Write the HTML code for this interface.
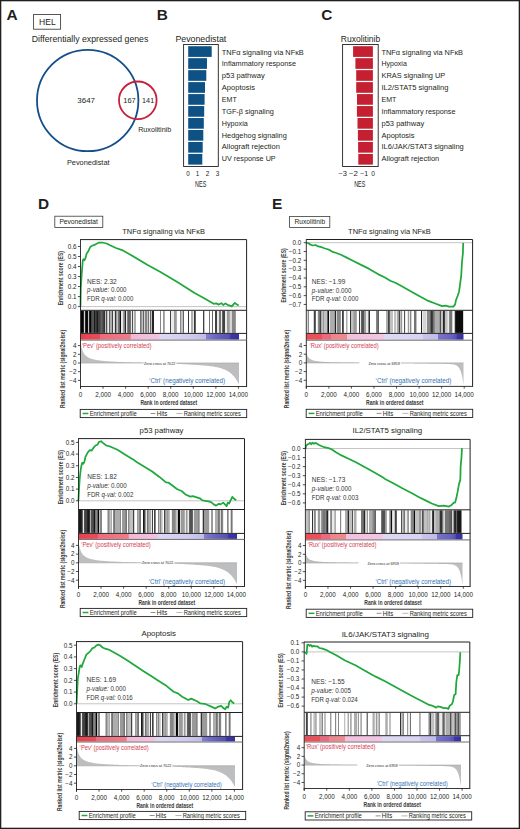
<!DOCTYPE html>
<html><head><meta charset="utf-8"><style>
html,body{margin:0;padding:0;background:#fff;}
body{width:520px;height:829px;overflow:hidden;}
svg{display:block;font-family:"Liberation Sans", sans-serif;}
</style></head><body>
<svg width="520" height="829" viewBox="0 0 520 829">
<rect x="0" y="0" width="520" height="829" fill="#fff"/>
<g fill="#231f20">
<text x="6.60" y="20.00" font-size="14" font-weight="bold" textLength="11.20" lengthAdjust="spacingAndGlyphs">A</text>
<rect x="33.60" y="14.50" width="27.00" height="14.70" fill="none" stroke="#3a3a3a" stroke-width="0.85"/>
<text x="39.10" y="24.70" font-size="9.2" textLength="16.60" lengthAdjust="spacingAndGlyphs">HEL</text>
<text x="31.80" y="42.00" font-size="9" textLength="116.50" lengthAdjust="spacingAndGlyphs">Differentially expressed genes</text>
<circle cx="87.7" cy="100.5" r="50.7" fill="none" stroke="#124f8a" stroke-width="1.8"/>
<circle cx="137.8" cy="100.3" r="18.8" fill="none" stroke="#c8203a" stroke-width="1.8"/>
<text x="77.30" y="102.90" font-size="8.1" textLength="17.70" lengthAdjust="spacingAndGlyphs">3647</text>
<text x="123.30" y="102.90" font-size="8.1" textLength="12.50" lengthAdjust="spacingAndGlyphs">167</text>
<text x="142.10" y="102.90" font-size="8.1" textLength="12.10" lengthAdjust="spacingAndGlyphs">141</text>
<text x="138.20" y="132.30" font-size="7.8" textLength="33.00" lengthAdjust="spacingAndGlyphs">Ruxolitinib</text>
<text x="66.90" y="164.50" font-size="7.8" textLength="42.70" lengthAdjust="spacingAndGlyphs">Pevonedistat</text>
<text x="156.80" y="19.60" font-size="14" font-weight="bold" textLength="11.10" lengthAdjust="spacingAndGlyphs">B</text>
<text x="175.40" y="41.70" font-size="9.3" textLength="50.90" lengthAdjust="spacingAndGlyphs">Pevonedistat</text>
<rect x="183.60" y="44.50" width="34.70" height="122.00" fill="none" stroke="#231f20" stroke-width="0.9"/>
<rect x="188.20" y="46.20" width="23.50" height="10.70" fill="#0e5285"/>
<text x="221.80" y="54.60" font-size="8.1" textLength="82.00" lengthAdjust="spacingAndGlyphs">TNF&#945; signaling via NF&#954;B</text>
<rect x="188.20" y="58.17" width="18.80" height="10.70" fill="#0e5285"/>
<text x="221.80" y="66.45" font-size="8.1" textLength="74.20" lengthAdjust="spacingAndGlyphs">Inflammatory response</text>
<rect x="188.20" y="70.14" width="18.10" height="10.70" fill="#0e5285"/>
<text x="221.80" y="78.30" font-size="8.1" textLength="42.90" lengthAdjust="spacingAndGlyphs">p53 pathway</text>
<rect x="188.20" y="82.11" width="16.80" height="10.70" fill="#0e5285"/>
<text x="221.80" y="90.15" font-size="8.1" textLength="33.10" lengthAdjust="spacingAndGlyphs">Apoptosis</text>
<rect x="188.20" y="94.08" width="16.40" height="10.70" fill="#0e5285"/>
<text x="221.80" y="102.00" font-size="8.1" textLength="14.90" lengthAdjust="spacingAndGlyphs">EMT</text>
<rect x="188.20" y="106.05" width="16.00" height="10.70" fill="#0e5285"/>
<text x="221.80" y="113.85" font-size="8.1" textLength="52.00" lengthAdjust="spacingAndGlyphs">TGF-&#946; signaling</text>
<rect x="188.20" y="118.02" width="15.60" height="10.70" fill="#0e5285"/>
<text x="221.80" y="125.70" font-size="8.1" textLength="26.00" lengthAdjust="spacingAndGlyphs">Hypoxia</text>
<rect x="188.20" y="129.99" width="15.10" height="10.70" fill="#0e5285"/>
<text x="221.80" y="137.55" font-size="8.1" textLength="65.00" lengthAdjust="spacingAndGlyphs">Hedgehog signaling</text>
<rect x="188.20" y="141.96" width="14.50" height="10.70" fill="#0e5285"/>
<text x="221.80" y="149.40" font-size="8.1" textLength="58.10" lengthAdjust="spacingAndGlyphs">Allograft rejection</text>
<rect x="188.20" y="153.93" width="14.10" height="10.70" fill="#0e5285"/>
<text x="221.80" y="161.25" font-size="8.1" textLength="53.90" lengthAdjust="spacingAndGlyphs">UV response UP</text>
<text x="187.90" y="175.70" font-size="6.3" text-anchor="middle">0</text>
<text x="197.50" y="175.70" font-size="6.3" text-anchor="middle">1</text>
<text x="207.60" y="175.70" font-size="6.3" text-anchor="middle">2</text>
<text x="217.40" y="175.70" font-size="6.3" text-anchor="middle">3</text>
<text x="200.75" y="186.90" font-size="9.0" text-anchor="middle" textLength="11.30" lengthAdjust="spacingAndGlyphs">NES</text>
<text x="321.30" y="19.60" font-size="14" font-weight="bold" textLength="11.10" lengthAdjust="spacingAndGlyphs">C</text>
<text x="340.80" y="41.70" font-size="9.3" textLength="39.40" lengthAdjust="spacingAndGlyphs">Ruxolitinib</text>
<rect x="342.60" y="44.50" width="35.60" height="122.00" fill="none" stroke="#231f20" stroke-width="0.9"/>
<rect x="353.10" y="46.20" width="19.80" height="10.70" fill="#c42032"/>
<text x="381.50" y="54.60" font-size="8.1" textLength="81.50" lengthAdjust="spacingAndGlyphs">TNF&#945; signaling via NF&#954;B</text>
<rect x="355.40" y="58.17" width="17.50" height="10.70" fill="#c42032"/>
<text x="381.50" y="66.45" font-size="8.1" textLength="25.30" lengthAdjust="spacingAndGlyphs">Hypoxia</text>
<rect x="356.20" y="70.14" width="16.70" height="10.70" fill="#c42032"/>
<text x="381.50" y="78.30" font-size="8.1" textLength="63.80" lengthAdjust="spacingAndGlyphs">KRAS signaling UP</text>
<rect x="356.20" y="82.11" width="16.70" height="10.70" fill="#c42032"/>
<text x="381.50" y="90.15" font-size="8.1" textLength="66.90" lengthAdjust="spacingAndGlyphs">IL2/STAT5 signaling</text>
<rect x="357.00" y="94.08" width="15.90" height="10.70" fill="#c42032"/>
<text x="381.50" y="102.00" font-size="8.1" textLength="14.80" lengthAdjust="spacingAndGlyphs">EMT</text>
<rect x="356.90" y="106.05" width="16.00" height="10.70" fill="#c42032"/>
<text x="381.50" y="113.85" font-size="8.1" textLength="74.00" lengthAdjust="spacingAndGlyphs">Inflammatory response</text>
<rect x="357.50" y="118.02" width="15.40" height="10.70" fill="#c42032"/>
<text x="381.50" y="125.70" font-size="8.1" textLength="42.70" lengthAdjust="spacingAndGlyphs">p53 pathway</text>
<rect x="357.90" y="129.99" width="15.00" height="10.70" fill="#c42032"/>
<text x="381.50" y="137.55" font-size="8.1" textLength="33.00" lengthAdjust="spacingAndGlyphs">Apoptosis</text>
<rect x="358.10" y="141.96" width="14.80" height="10.70" fill="#c42032"/>
<text x="381.50" y="149.40" font-size="8.1" textLength="82.30" lengthAdjust="spacingAndGlyphs">IL6/JAK/STAT3 signaling</text>
<rect x="358.30" y="153.93" width="14.60" height="10.70" fill="#c42032"/>
<text x="381.50" y="161.25" font-size="8.1" textLength="57.70" lengthAdjust="spacingAndGlyphs">Allograft rejection</text>
<text x="342.70" y="175.80" font-size="6.4" text-anchor="middle" textLength="8.60" lengthAdjust="spacingAndGlyphs">&#8722;3</text>
<text x="353.50" y="175.80" font-size="6.4" text-anchor="middle" textLength="9.00" lengthAdjust="spacingAndGlyphs">&#8722;2</text>
<text x="364.20" y="175.80" font-size="6.4" text-anchor="middle" textLength="8.00" lengthAdjust="spacingAndGlyphs">&#8722;1</text>
<text x="373.20" y="175.80" font-size="6.4" text-anchor="middle" textLength="3.70" lengthAdjust="spacingAndGlyphs">0</text>
<text x="359.80" y="186.90" font-size="9.0" text-anchor="middle" textLength="11.30" lengthAdjust="spacingAndGlyphs">NES</text>
<text x="38.10" y="209.30" font-size="14" font-weight="bold" textLength="11.10" lengthAdjust="spacingAndGlyphs">D</text>
<rect x="54.80" y="216.20" width="48.00" height="11.40" fill="none" stroke="#3a3a3a" stroke-width="0.8"/>
<text x="59.40" y="224.40" font-size="6.9" textLength="38.50" lengthAdjust="spacingAndGlyphs">Pevonedistat</text>
<text x="272.00" y="209.30" font-size="14" font-weight="bold" textLength="10.30" lengthAdjust="spacingAndGlyphs">E</text>
<rect x="289.60" y="216.40" width="40.20" height="11.20" fill="none" stroke="#3a3a3a" stroke-width="0.8"/>
<text x="294.60" y="224.40" font-size="6.9" textLength="30.50" lengthAdjust="spacingAndGlyphs">Ruxolitinib</text>
<text x="163.55" y="234.30" font-size="8.1" text-anchor="middle" textLength="82.70" lengthAdjust="spacingAndGlyphs">TNF&#945; signaling via NF&#954;B</text>
<line x1="80.50" y1="306.60" x2="246.60" y2="306.60" stroke="#bdbdbd" stroke-width="0.9"/>
<polyline points="80.50,306.50 80.80,288.20 81.80,272.60 82.80,260.50 83.50,259.10 84.40,260.20 85.30,258.80 86.70,253.60 88.00,251.80 89.20,249.20 90.50,246.70 92.20,245.80 94.40,244.90 97.00,243.50 99.10,242.50 102.20,242.50 106.60,243.50 110.00,245.30 116.00,248.00 122.10,250.10 130.00,254.40 147.20,264.80 160.00,271.70 177.30,282.10 194.60,293.00 203.30,297.70 213.70,303.80 216.20,303.40 218.80,304.60 221.40,303.20 223.20,305.00 225.40,303.40 228.40,305.20 231.80,306.40 234.80,302.90 237.00,304.60 238.70,305.50" fill="none" stroke="#1fa83c" stroke-width="1.75" stroke-linejoin="round"/>
<rect x="81" y="310.80" width="2" height="22.10" fill="rgb(3,3,3)"/>
<rect x="83" y="310.80" width="1" height="22.10" fill="rgb(37,37,37)"/>
<rect x="84" y="310.80" width="1" height="22.10" fill="rgb(213,213,213)"/>
<rect x="85" y="310.80" width="1" height="22.10" fill="rgb(37,37,37)"/>
<rect x="86" y="310.80" width="1" height="22.10" fill="rgb(3,3,3)"/>
<rect x="87" y="310.80" width="1" height="22.10" fill="rgb(12,12,12)"/>
<rect x="88" y="310.80" width="1" height="22.10" fill="rgb(193,193,193)"/>
<rect x="89" y="310.80" width="1" height="22.10" fill="rgb(37,37,37)"/>
<rect x="90" y="310.80" width="1" height="22.10" fill="rgb(3,3,3)"/>
<rect x="91" y="310.80" width="1" height="22.10" fill="rgb(66,66,66)"/>
<rect x="92" y="310.80" width="2" height="22.10" fill="rgb(82,82,82)"/>
<rect x="94" y="310.80" width="1" height="22.10" fill="rgb(24,24,24)"/>
<rect x="95" y="310.80" width="1" height="22.10" fill="rgb(66,66,66)"/>
<rect x="96" y="310.80" width="1" height="22.10" fill="rgb(51,51,51)"/>
<rect x="97" y="310.80" width="1" height="22.10" fill="rgb(24,24,24)"/>
<rect x="98" y="310.80" width="2" height="22.10" fill="rgb(66,66,66)"/>
<rect x="100" y="310.80" width="1" height="22.10" fill="rgb(82,82,82)"/>
<rect x="101" y="310.80" width="1" height="22.10" fill="rgb(99,99,99)"/>
<rect x="102" y="310.80" width="1" height="22.10" fill="rgb(82,82,82)"/>
<rect x="103" y="310.80" width="1" height="22.10" fill="rgb(66,66,66)"/>
<rect x="104" y="310.80" width="1" height="22.10" fill="rgb(51,51,51)"/>
<rect x="105" y="310.80" width="1" height="22.10" fill="rgb(193,193,193)"/>
<rect x="106" y="310.80" width="1" height="22.10" fill="rgb(82,82,82)"/>
<rect x="107" y="310.80" width="1" height="22.10" fill="rgb(193,193,193)"/>
<rect x="108" y="310.80" width="1" height="22.10" fill="rgb(234,234,234)"/>
<rect x="109" y="310.80" width="1" height="22.10" fill="rgb(99,99,99)"/>
<rect x="110" y="310.80" width="2" height="22.10" fill="rgb(173,173,173)"/>
<rect x="112" y="310.80" width="1" height="22.10" fill="rgb(66,66,66)"/>
<rect x="113" y="310.80" width="1" height="22.10" fill="rgb(234,234,234)"/>
<rect x="114" y="310.80" width="1" height="22.10" fill="rgb(213,213,213)"/>
<rect x="115" y="310.80" width="1" height="22.10" fill="rgb(51,51,51)"/>
<rect x="116" y="310.80" width="1" height="22.10" fill="rgb(154,154,154)"/>
<rect x="117" y="310.80" width="1" height="22.10" fill="rgb(193,193,193)"/>
<rect x="118" y="310.80" width="1" height="22.10" fill="rgb(117,117,117)"/>
<rect x="119" y="310.80" width="1" height="22.10" fill="rgb(99,99,99)"/>
<rect x="120" y="310.80" width="1" height="22.10" fill="rgb(12,12,12)"/>
<rect x="121" y="310.80" width="2" height="22.10" fill="rgb(234,234,234)"/>
<rect x="123" y="310.80" width="1" height="22.10" fill="rgb(154,154,154)"/>
<rect x="124" y="310.80" width="1" height="22.10" fill="rgb(135,135,135)"/>
<rect x="125" y="310.80" width="1" height="22.10" fill="rgb(37,37,37)"/>
<rect x="126" y="310.80" width="1" height="22.10" fill="rgb(234,234,234)"/>
<rect x="127" y="310.80" width="1" height="22.10" fill="rgb(135,135,135)"/>
<rect x="128" y="310.80" width="2" height="22.10" fill="rgb(99,99,99)"/>
<rect x="130" y="310.80" width="1" height="22.10" fill="rgb(117,117,117)"/>
<rect x="131" y="310.80" width="1" height="22.10" fill="rgb(234,234,234)"/>
<rect x="132" y="310.80" width="1" height="22.10" fill="rgb(82,82,82)"/>
<rect x="133" y="310.80" width="1" height="22.10" fill="rgb(234,234,234)"/>
<rect x="134" y="310.80" width="2" height="22.10" fill="rgb(173,173,173)"/>
<rect x="140" y="310.80" width="1" height="22.10" fill="rgb(117,117,117)"/>
<rect x="141" y="310.80" width="1" height="22.10" fill="rgb(154,154,154)"/>
<rect x="142" y="310.80" width="1" height="22.10" fill="rgb(193,193,193)"/>
<rect x="143" y="310.80" width="1" height="22.10" fill="rgb(99,99,99)"/>
<rect x="144" y="310.80" width="1" height="22.10" fill="rgb(213,213,213)"/>
<rect x="145" y="310.80" width="2" height="22.10" fill="rgb(135,135,135)"/>
<rect x="147" y="310.80" width="1" height="22.10" fill="rgb(193,193,193)"/>
<rect x="148" y="310.80" width="1" height="22.10" fill="rgb(117,117,117)"/>
<rect x="149" y="310.80" width="1" height="22.10" fill="rgb(234,234,234)"/>
<rect x="150" y="310.80" width="1" height="22.10" fill="rgb(99,99,99)"/>
<rect x="151" y="310.80" width="1" height="22.10" fill="rgb(193,193,193)"/>
<rect x="152" y="310.80" width="2" height="22.10" fill="rgb(37,37,37)"/>
<rect x="160" y="310.80" width="1" height="22.10" fill="rgb(135,135,135)"/>
<rect x="163" y="310.80" width="1" height="22.10" fill="rgb(154,154,154)"/>
<rect x="164" y="310.80" width="1" height="22.10" fill="rgb(173,173,173)"/>
<rect x="170" y="310.80" width="1" height="22.10" fill="rgb(66,66,66)"/>
<rect x="171" y="310.80" width="3" height="22.10" fill="rgb(234,234,234)"/>
<rect x="174" y="310.80" width="2" height="22.10" fill="rgb(154,154,154)"/>
<rect x="176" y="310.80" width="1" height="22.10" fill="rgb(173,173,173)"/>
<rect x="180" y="310.80" width="1" height="22.10" fill="rgb(135,135,135)"/>
<rect x="181" y="310.80" width="2" height="22.10" fill="rgb(193,193,193)"/>
<rect x="183" y="310.80" width="1" height="22.10" fill="rgb(99,99,99)"/>
<rect x="188" y="310.80" width="1" height="22.10" fill="rgb(51,51,51)"/>
<rect x="191" y="310.80" width="2" height="22.10" fill="rgb(173,173,173)"/>
<rect x="193" y="310.80" width="1" height="22.10" fill="rgb(234,234,234)"/>
<rect x="194" y="310.80" width="1" height="22.10" fill="rgb(51,51,51)"/>
<rect x="195" y="310.80" width="1" height="22.10" fill="rgb(99,99,99)"/>
<rect x="203" y="310.80" width="1" height="22.10" fill="rgb(66,66,66)"/>
<rect x="204" y="310.80" width="1" height="22.10" fill="rgb(193,193,193)"/>
<rect x="209" y="310.80" width="1" height="22.10" fill="rgb(117,117,117)"/>
<rect x="212" y="310.80" width="1" height="22.10" fill="rgb(99,99,99)"/>
<rect x="215" y="310.80" width="2" height="22.10" fill="rgb(66,66,66)"/>
<rect x="217" y="310.80" width="2" height="22.10" fill="rgb(234,234,234)"/>
<rect x="219" y="310.80" width="2" height="22.10" fill="rgb(117,117,117)"/>
<rect x="221" y="310.80" width="1" height="22.10" fill="rgb(234,234,234)"/>
<rect x="222" y="310.80" width="1" height="22.10" fill="rgb(99,99,99)"/>
<rect x="223" y="310.80" width="2" height="22.10" fill="rgb(66,66,66)"/>
<rect x="225" y="310.80" width="2" height="22.10" fill="rgb(234,234,234)"/>
<rect x="227" y="310.80" width="2" height="22.10" fill="rgb(154,154,154)"/>
<rect x="229" y="310.80" width="1" height="22.10" fill="rgb(173,173,173)"/>
<rect x="230" y="310.80" width="2" height="22.10" fill="rgb(213,213,213)"/>
<rect x="232" y="310.80" width="3" height="22.10" fill="rgb(135,135,135)"/>
<rect x="235" y="310.80" width="1" height="22.10" fill="rgb(154,154,154)"/>
<defs><linearGradient id="d1g" x1="0" x2="1" y1="0" y2="0"><stop offset="0" stop-color="#e8404c"/><stop offset="0.122" stop-color="#ea4c58"/><stop offset="0.124" stop-color="#ee6a7c"/><stop offset="0.315" stop-color="#f07c88"/><stop offset="0.317" stop-color="#f2b8d6"/><stop offset="0.495" stop-color="#f0c4e2"/><stop offset="0.5" stop-color="#dcd8f4"/><stop offset="0.69" stop-color="#d0ccf0"/><stop offset="0.79" stop-color="#c0bce8"/><stop offset="0.792" stop-color="#8480d0"/><stop offset="0.85" stop-color="#6c68c4"/><stop offset="0.94" stop-color="#5450b4"/><stop offset="0.942" stop-color="#3c38a8"/><stop offset="1.0" stop-color="#3430a2"/></linearGradient></defs>
<rect x="80.50" y="333.90" width="158.50" height="5.70" fill="url(#d1g)"/>
<path d="M80.80,363.00 L80.80,343.43 L80.81,343.51 L80.85,343.74 L80.91,344.13 L81.00,344.64 L81.11,345.26 L81.25,345.96 L81.41,346.72 L81.59,347.52 L81.80,348.34 L82.04,349.15 L82.30,349.96 L82.58,350.74 L82.89,351.49 L83.23,352.20 L83.58,352.87 L83.97,353.51 L84.38,354.10 L84.81,354.66 L85.27,355.18 L85.75,355.66 L86.26,356.11 L86.79,356.52 L87.35,356.91 L87.93,357.27 L88.54,357.60 L89.17,357.91 L89.82,358.20 L90.50,358.46 L91.21,358.71 L91.94,358.95 L92.69,359.16 L93.47,359.37 L94.28,359.56 L95.11,359.74 L95.96,359.90 L96.84,360.06 L97.74,360.21 L98.67,360.35 L99.62,360.48 L100.60,360.60 L101.60,360.72 L102.63,360.83 L103.68,360.94 L104.76,361.04 L105.86,361.13 L106.99,361.22 L108.14,361.31 L109.31,361.39 L110.52,361.47 L111.74,361.55 L112.99,361.62 L114.27,361.69 L115.56,361.76 L116.89,361.82 L118.24,361.89 L119.61,361.95 L121.01,362.00 L122.43,362.06 L123.88,362.11 L125.35,362.17 L126.85,362.22 L128.37,362.27 L129.92,362.32 L131.49,362.36 L133.09,362.41 L134.71,362.45 L136.36,362.50 L138.03,362.54 L139.72,362.58 L141.44,362.62 L143.19,362.66 L144.96,362.70 L146.75,362.74 L148.57,362.78 L150.42,362.82 L152.29,362.86 L154.18,362.89 L156.10,362.93 L158.04,362.96 L160.01,363.00 L160.70,363.05 L161.69,363.10 L162.68,363.15 L163.67,363.20 L164.66,363.25 L165.66,363.30 L166.65,363.35 L167.64,363.40 L168.63,363.45 L169.62,363.50 L170.61,363.55 L171.60,363.60 L172.59,363.65 L173.58,363.70 L174.58,363.75 L175.57,363.80 L176.56,363.85 L177.55,363.90 L178.54,363.95 L179.53,364.00 L180.52,364.05 L181.51,364.10 L182.50,364.15 L183.50,364.21 L184.49,364.26 L185.48,364.31 L186.47,364.37 L187.46,364.42 L188.45,364.48 L189.44,364.53 L190.43,364.59 L191.42,364.64 L192.42,364.70 L193.41,364.76 L194.40,364.82 L195.39,364.89 L196.38,364.95 L197.37,365.01 L198.36,365.08 L199.35,365.15 L200.35,365.22 L201.34,365.30 L202.33,365.38 L203.32,365.46 L204.31,365.54 L205.30,365.63 L206.29,365.72 L207.28,365.82 L208.27,365.93 L209.27,366.04 L210.26,366.16 L211.25,366.29 L212.24,366.43 L213.23,366.58 L214.22,366.74 L215.21,366.91 L216.20,367.10 L217.19,367.30 L218.19,367.53 L219.18,367.77 L220.17,368.04 L221.16,368.33 L222.15,368.65 L223.14,369.01 L224.13,369.40 L225.12,369.83 L226.12,370.31 L227.11,370.84 L228.10,371.42 L229.09,372.07 L230.08,372.80 L231.07,373.60 L232.06,374.49 L233.05,375.48 L234.04,376.58 L235.04,377.81 L236.03,379.18 L237.02,380.71 L238.01,382.41 L239.00,384.31 L239.00,363.00Z" fill="#bdbec0" stroke="none"/>
<line x1="80.50" y1="363.00" x2="239.00" y2="363.00" stroke="#a9a9a9" stroke-width="0.7"/>
<rect x="143.71" y="361.10" width="32.70" height="3.80" fill="#fff"/>
<text x="159.71" y="364.60" font-size="4.3" text-anchor="middle" textLength="31.40" lengthAdjust="spacingAndGlyphs">Zero cross at 7022</text>
<text x="81.80" y="348.00" font-size="6.5" fill="#d43d54" textLength="69.70" lengthAdjust="spacingAndGlyphs">&#8216;Pev&#8217; (positively correlated)</text>
<text x="149.10" y="383.20" font-size="6.5" fill="#3273b4" textLength="75.90" lengthAdjust="spacingAndGlyphs">&#8216;Ctrl&#8217; (negatively correlated)</text>
<line x1="80.50" y1="239.60" x2="246.60" y2="239.60" stroke="#231f20" stroke-width="1.0"/>
<line x1="246.60" y1="239.60" x2="246.60" y2="386.50" stroke="#231f20" stroke-width="1.0"/>
<line x1="80.50" y1="310.30" x2="246.60" y2="310.30" stroke="#231f20" stroke-width="1.0"/>
<line x1="80.50" y1="333.40" x2="246.60" y2="333.40" stroke="#231f20" stroke-width="1.0"/>
<line x1="80.50" y1="340.10" x2="246.60" y2="340.10" stroke="#6a6a6a" stroke-width="1.0"/>
<line x1="80.05" y1="386.50" x2="247.05" y2="386.50" stroke="#231f20" stroke-width="0.9"/>
<line x1="80.50" y1="239.15" x2="80.50" y2="388.70" stroke="#231f20" stroke-width="0.9"/>
<line x1="77.90" y1="246.48" x2="80.50" y2="246.48" stroke="#231f20" stroke-width="0.8"/>
<text x="76.40" y="248.78" font-size="6.3" text-anchor="end">0.6</text>
<line x1="77.90" y1="256.50" x2="80.50" y2="256.50" stroke="#231f20" stroke-width="0.8"/>
<text x="76.40" y="258.80" font-size="6.3" text-anchor="end">0.5</text>
<line x1="77.90" y1="266.52" x2="80.50" y2="266.52" stroke="#231f20" stroke-width="0.8"/>
<text x="76.40" y="268.82" font-size="6.3" text-anchor="end">0.4</text>
<line x1="77.90" y1="276.54" x2="80.50" y2="276.54" stroke="#231f20" stroke-width="0.8"/>
<text x="76.40" y="278.84" font-size="6.3" text-anchor="end">0.3</text>
<line x1="77.90" y1="286.56" x2="80.50" y2="286.56" stroke="#231f20" stroke-width="0.8"/>
<text x="76.40" y="288.86" font-size="6.3" text-anchor="end">0.2</text>
<line x1="77.90" y1="296.58" x2="80.50" y2="296.58" stroke="#231f20" stroke-width="0.8"/>
<text x="76.40" y="298.88" font-size="6.3" text-anchor="end">0.1</text>
<line x1="77.90" y1="306.60" x2="80.50" y2="306.60" stroke="#231f20" stroke-width="0.8"/>
<text x="76.40" y="308.90" font-size="6.3" text-anchor="end">0.0</text>
<line x1="77.90" y1="345.60" x2="80.50" y2="345.60" stroke="#231f20" stroke-width="0.8"/>
<text x="76.50" y="347.90" font-size="6.3" text-anchor="end">4</text>
<line x1="77.90" y1="354.30" x2="80.50" y2="354.30" stroke="#231f20" stroke-width="0.8"/>
<text x="76.50" y="356.60" font-size="6.3" text-anchor="end">2</text>
<line x1="77.90" y1="363.00" x2="80.50" y2="363.00" stroke="#231f20" stroke-width="0.8"/>
<text x="76.50" y="365.30" font-size="6.3" text-anchor="end">0</text>
<line x1="77.90" y1="371.70" x2="80.50" y2="371.70" stroke="#231f20" stroke-width="0.8"/>
<text x="76.50" y="374.00" font-size="6.3" text-anchor="end">&#8722;2</text>
<line x1="77.90" y1="380.40" x2="80.50" y2="380.40" stroke="#231f20" stroke-width="0.8"/>
<text x="76.50" y="382.70" font-size="6.3" text-anchor="end">&#8722;4</text>
<line x1="80.50" y1="386.50" x2="80.50" y2="388.70" stroke="#231f20" stroke-width="0.8"/>
<text x="80.50" y="396.70" font-size="6.3" text-anchor="middle">0</text>
<line x1="103.06" y1="386.50" x2="103.06" y2="388.70" stroke="#231f20" stroke-width="0.8"/>
<text x="103.06" y="396.70" font-size="6.3" text-anchor="middle">2,000</text>
<line x1="125.62" y1="386.50" x2="125.62" y2="388.70" stroke="#231f20" stroke-width="0.8"/>
<text x="125.62" y="396.70" font-size="6.3" text-anchor="middle">4,000</text>
<line x1="148.18" y1="386.50" x2="148.18" y2="388.70" stroke="#231f20" stroke-width="0.8"/>
<text x="148.18" y="396.70" font-size="6.3" text-anchor="middle">6,000</text>
<line x1="170.74" y1="386.50" x2="170.74" y2="388.70" stroke="#231f20" stroke-width="0.8"/>
<text x="170.74" y="396.70" font-size="6.3" text-anchor="middle">8,000</text>
<line x1="193.30" y1="386.50" x2="193.30" y2="388.70" stroke="#231f20" stroke-width="0.8"/>
<text x="193.30" y="396.70" font-size="6.3" text-anchor="middle">10,000</text>
<line x1="215.86" y1="386.50" x2="215.86" y2="388.70" stroke="#231f20" stroke-width="0.8"/>
<text x="215.86" y="396.70" font-size="6.3" text-anchor="middle">12,000</text>
<line x1="238.42" y1="386.50" x2="238.42" y2="388.70" stroke="#231f20" stroke-width="0.8"/>
<text x="238.42" y="396.70" font-size="6.3" text-anchor="middle">14,000</text>
<text x="168.85" y="405.10" font-size="7.6" text-anchor="middle" fill="#3a3a3a" font-weight="bold" textLength="56.80" lengthAdjust="spacingAndGlyphs">Rank in ordered dataset</text>
<text x="62.90" y="305.30" font-size="7.6" fill="#3a3a3a" font-weight="bold" textLength="54.30" lengthAdjust="spacingAndGlyphs" transform="rotate(-90 62.90 305.30)">Enrichment score (ES)</text>
<text x="65.40" y="408.00" font-size="7.2" fill="#3a3a3a" font-weight="bold" textLength="78.30" lengthAdjust="spacingAndGlyphs" transform="rotate(-90 65.40 408.00)">Ranked list metric (signal2noise)</text>
<rect x="80.20" y="409.40" width="166.50" height="8.20" fill="none" stroke="#231f20" stroke-width="0.9"/>
<line x1="82.60" y1="413.50" x2="88.40" y2="413.50" stroke="#1fa83c" stroke-width="1.5"/>
<text x="89.70" y="415.70" font-size="6.6" textLength="47.00" lengthAdjust="spacingAndGlyphs">Enrichment profile</text>
<line x1="150.60" y1="413.50" x2="155.50" y2="413.50" stroke="#444" stroke-width="0.6"/>
<text x="156.80" y="415.70" font-size="6.6" textLength="10.40" lengthAdjust="spacingAndGlyphs">Hits</text>
<line x1="176.40" y1="413.50" x2="182.50" y2="413.50" stroke="#888" stroke-width="0.6"/>
<text x="183.70" y="415.70" font-size="6.6" textLength="57.30" lengthAdjust="spacingAndGlyphs">Ranking metric scores</text>
<text x="87.10" y="283.50" font-size="6.4" fill="#333" textLength="29.60" lengthAdjust="spacingAndGlyphs">NES: 2.32</text>
<text x="87.10" y="292.40" font-size="6.4" fill="#333" textLength="39.50" lengthAdjust="spacingAndGlyphs"><tspan font-style="italic">p-value:</tspan> 0.000</text>
<text x="87.10" y="301.20" font-size="6.4" fill="#333" textLength="46.20" lengthAdjust="spacingAndGlyphs">FDR <tspan font-style="italic">q-val:</tspan> 0.000</text>
<text x="161.50" y="433.30" font-size="8.1" text-anchor="middle" textLength="43.80" lengthAdjust="spacingAndGlyphs">p53 pathway</text>
<line x1="78.50" y1="500.80" x2="244.50" y2="500.80" stroke="#bdbdbd" stroke-width="0.9"/>
<polyline points="78.40,500.90 79.10,487.90 79.80,477.50 80.80,468.90 82.10,462.80 83.30,463.70 84.30,462.00 85.50,456.80 87.80,452.40 89.80,450.20 91.60,450.70 93.30,448.10 95.40,445.50 97.60,444.70 98.80,442.10 101.10,441.20 102.80,442.90 106.30,445.50 110.60,446.70 117.50,449.80 124.50,454.20 133.10,459.40 136.60,462.00 145.20,467.20 152.20,471.50 159.10,476.70 166.00,482.40 168.70,482.70 177.30,489.30 181.60,491.00 186.00,494.80 190.30,496.60 192.90,496.20 199.80,498.30 202.40,500.40 208.50,501.40 211.10,502.10 213.70,504.40 216.20,505.60 218.80,503.80 220.60,504.40 223.20,502.60 225.40,504.90 226.60,506.10 227.80,502.60 229.20,503.50 230.60,500.40 232.30,496.90 233.60,498.30 234.80,499.20 236.20,500.40" fill="none" stroke="#1fa83c" stroke-width="1.75" stroke-linejoin="round"/>
<rect x="79" y="510.00" width="2" height="22.90" fill="rgb(24,24,24)"/>
<rect x="81" y="510.00" width="1" height="22.90" fill="rgb(37,37,37)"/>
<rect x="82" y="510.00" width="1" height="22.90" fill="rgb(99,99,99)"/>
<rect x="83" y="510.00" width="1" height="22.90" fill="rgb(234,234,234)"/>
<rect x="84" y="510.00" width="1" height="22.90" fill="rgb(82,82,82)"/>
<rect x="85" y="510.00" width="2" height="22.90" fill="rgb(66,66,66)"/>
<rect x="87" y="510.00" width="1" height="22.90" fill="rgb(37,37,37)"/>
<rect x="88" y="510.00" width="1" height="22.90" fill="rgb(24,24,24)"/>
<rect x="89" y="510.00" width="1" height="22.90" fill="rgb(51,51,51)"/>
<rect x="90" y="510.00" width="1" height="22.90" fill="rgb(173,173,173)"/>
<rect x="91" y="510.00" width="2" height="22.90" fill="rgb(82,82,82)"/>
<rect x="93" y="510.00" width="1" height="22.90" fill="rgb(66,66,66)"/>
<rect x="94" y="510.00" width="1" height="22.90" fill="rgb(24,24,24)"/>
<rect x="95" y="510.00" width="1" height="22.90" fill="rgb(117,117,117)"/>
<rect x="96" y="510.00" width="1" height="22.90" fill="rgb(135,135,135)"/>
<rect x="97" y="510.00" width="1" height="22.90" fill="rgb(99,99,99)"/>
<rect x="98" y="510.00" width="1" height="22.90" fill="rgb(3,3,3)"/>
<rect x="99" y="510.00" width="1" height="22.90" fill="rgb(193,193,193)"/>
<rect x="100" y="510.00" width="2" height="22.90" fill="rgb(135,135,135)"/>
<rect x="107" y="510.00" width="1" height="22.90" fill="rgb(193,193,193)"/>
<rect x="108" y="510.00" width="1" height="22.90" fill="rgb(135,135,135)"/>
<rect x="109" y="510.00" width="1" height="22.90" fill="rgb(173,173,173)"/>
<rect x="110" y="510.00" width="1" height="22.90" fill="rgb(193,193,193)"/>
<rect x="111" y="510.00" width="1" height="22.90" fill="rgb(173,173,173)"/>
<rect x="113" y="510.00" width="1" height="22.90" fill="rgb(135,135,135)"/>
<rect x="114" y="510.00" width="1" height="22.90" fill="rgb(117,117,117)"/>
<rect x="115" y="510.00" width="5" height="22.90" fill="rgb(173,173,173)"/>
<rect x="120" y="510.00" width="1" height="22.90" fill="rgb(135,135,135)"/>
<rect x="122" y="510.00" width="3" height="22.90" fill="rgb(154,154,154)"/>
<rect x="125" y="510.00" width="1" height="22.90" fill="rgb(135,135,135)"/>
<rect x="126" y="510.00" width="1" height="22.90" fill="rgb(117,117,117)"/>
<rect x="128" y="510.00" width="1" height="22.90" fill="rgb(135,135,135)"/>
<rect x="129" y="510.00" width="1" height="22.90" fill="rgb(173,173,173)"/>
<rect x="130" y="510.00" width="3" height="22.90" fill="rgb(193,193,193)"/>
<rect x="133" y="510.00" width="1" height="22.90" fill="rgb(66,66,66)"/>
<rect x="134" y="510.00" width="1" height="22.90" fill="rgb(213,213,213)"/>
<rect x="137" y="510.00" width="1" height="22.90" fill="rgb(154,154,154)"/>
<rect x="138" y="510.00" width="1" height="22.90" fill="rgb(173,173,173)"/>
<rect x="139" y="510.00" width="1" height="22.90" fill="rgb(135,135,135)"/>
<rect x="140" y="510.00" width="1" height="22.90" fill="rgb(117,117,117)"/>
<rect x="143" y="510.00" width="1" height="22.90" fill="rgb(24,24,24)"/>
<rect x="144" y="510.00" width="1" height="22.90" fill="rgb(66,66,66)"/>
<rect x="145" y="510.00" width="1" height="22.90" fill="rgb(154,154,154)"/>
<rect x="146" y="510.00" width="1" height="22.90" fill="rgb(234,234,234)"/>
<rect x="147" y="510.00" width="1" height="22.90" fill="rgb(117,117,117)"/>
<rect x="148" y="510.00" width="1" height="22.90" fill="rgb(154,154,154)"/>
<rect x="149" y="510.00" width="2" height="22.90" fill="rgb(173,173,173)"/>
<rect x="151" y="510.00" width="1" height="22.90" fill="rgb(234,234,234)"/>
<rect x="152" y="510.00" width="1" height="22.90" fill="rgb(66,66,66)"/>
<rect x="154" y="510.00" width="1" height="22.90" fill="rgb(66,66,66)"/>
<rect x="155" y="510.00" width="1" height="22.90" fill="rgb(135,135,135)"/>
<rect x="158" y="510.00" width="1" height="22.90" fill="rgb(135,135,135)"/>
<rect x="159" y="510.00" width="1" height="22.90" fill="rgb(193,193,193)"/>
<rect x="160" y="510.00" width="1" height="22.90" fill="rgb(135,135,135)"/>
<rect x="161" y="510.00" width="1" height="22.90" fill="rgb(193,193,193)"/>
<rect x="162" y="510.00" width="1" height="22.90" fill="rgb(213,213,213)"/>
<rect x="164" y="510.00" width="1" height="22.90" fill="rgb(66,66,66)"/>
<rect x="165" y="510.00" width="1" height="22.90" fill="rgb(154,154,154)"/>
<rect x="166" y="510.00" width="1" height="22.90" fill="rgb(173,173,173)"/>
<rect x="167" y="510.00" width="1" height="22.90" fill="rgb(154,154,154)"/>
<rect x="168" y="510.00" width="1" height="22.90" fill="rgb(173,173,173)"/>
<rect x="169" y="510.00" width="1" height="22.90" fill="rgb(193,193,193)"/>
<rect x="171" y="510.00" width="1" height="22.90" fill="rgb(234,234,234)"/>
<rect x="172" y="510.00" width="3" height="22.90" fill="rgb(135,135,135)"/>
<rect x="175" y="510.00" width="1" height="22.90" fill="rgb(154,154,154)"/>
<rect x="176" y="510.00" width="2" height="22.90" fill="rgb(193,193,193)"/>
<rect x="178" y="510.00" width="1" height="22.90" fill="rgb(3,3,3)"/>
<rect x="179" y="510.00" width="1" height="22.90" fill="rgb(12,12,12)"/>
<rect x="180" y="510.00" width="1" height="22.90" fill="rgb(213,213,213)"/>
<rect x="181" y="510.00" width="3" height="22.90" fill="rgb(154,154,154)"/>
<rect x="184" y="510.00" width="1" height="22.90" fill="rgb(173,173,173)"/>
<rect x="185" y="510.00" width="1" height="22.90" fill="rgb(234,234,234)"/>
<rect x="186" y="510.00" width="1" height="22.90" fill="rgb(154,154,154)"/>
<rect x="187" y="510.00" width="1" height="22.90" fill="rgb(193,193,193)"/>
<rect x="188" y="510.00" width="1" height="22.90" fill="rgb(234,234,234)"/>
<rect x="189" y="510.00" width="1" height="22.90" fill="rgb(99,99,99)"/>
<rect x="190" y="510.00" width="2" height="22.90" fill="rgb(82,82,82)"/>
<rect x="192" y="510.00" width="1" height="22.90" fill="rgb(99,99,99)"/>
<rect x="193" y="510.00" width="1" height="22.90" fill="rgb(234,234,234)"/>
<rect x="194" y="510.00" width="4" height="22.90" fill="rgb(154,154,154)"/>
<rect x="198" y="510.00" width="1" height="22.90" fill="rgb(135,135,135)"/>
<rect x="199" y="510.00" width="1" height="22.90" fill="rgb(173,173,173)"/>
<rect x="202" y="510.00" width="1" height="22.90" fill="rgb(193,193,193)"/>
<rect x="203" y="510.00" width="1" height="22.90" fill="rgb(51,51,51)"/>
<rect x="204" y="510.00" width="5" height="22.90" fill="rgb(154,154,154)"/>
<rect x="209" y="510.00" width="1" height="22.90" fill="rgb(234,234,234)"/>
<rect x="211" y="510.00" width="2" height="22.90" fill="rgb(154,154,154)"/>
<rect x="215" y="510.00" width="3" height="22.90" fill="rgb(173,173,173)"/>
<rect x="218" y="510.00" width="1" height="22.90" fill="rgb(117,117,117)"/>
<rect x="219" y="510.00" width="1" height="22.90" fill="rgb(135,135,135)"/>
<rect x="220" y="510.00" width="1" height="22.90" fill="rgb(213,213,213)"/>
<rect x="221" y="510.00" width="1" height="22.90" fill="rgb(117,117,117)"/>
<rect x="222" y="510.00" width="1" height="22.90" fill="rgb(135,135,135)"/>
<rect x="223" y="510.00" width="1" height="22.90" fill="rgb(234,234,234)"/>
<rect x="227" y="510.00" width="1" height="22.90" fill="rgb(135,135,135)"/>
<rect x="228" y="510.00" width="1" height="22.90" fill="rgb(173,173,173)"/>
<rect x="230" y="510.00" width="1" height="22.90" fill="rgb(213,213,213)"/>
<rect x="231" y="510.00" width="1" height="22.90" fill="rgb(117,117,117)"/>
<rect x="232" y="510.00" width="1" height="22.90" fill="rgb(173,173,173)"/>
<defs><linearGradient id="d2g" x1="0" x2="1" y1="0" y2="0"><stop offset="0" stop-color="#e8404c"/><stop offset="0.122" stop-color="#ea4c58"/><stop offset="0.124" stop-color="#ee6a7c"/><stop offset="0.315" stop-color="#f07c88"/><stop offset="0.317" stop-color="#f2b8d6"/><stop offset="0.495" stop-color="#f0c4e2"/><stop offset="0.5" stop-color="#dcd8f4"/><stop offset="0.69" stop-color="#d0ccf0"/><stop offset="0.79" stop-color="#c0bce8"/><stop offset="0.792" stop-color="#8480d0"/><stop offset="0.85" stop-color="#6c68c4"/><stop offset="0.94" stop-color="#5450b4"/><stop offset="0.942" stop-color="#3c38a8"/><stop offset="1.0" stop-color="#3430a2"/></linearGradient></defs>
<rect x="78.50" y="533.90" width="158.50" height="5.00" fill="url(#d2g)"/>
<path d="M78.80,562.80 L78.80,543.22 L78.81,543.31 L78.85,543.54 L78.91,543.93 L79.00,544.44 L79.11,545.06 L79.25,545.76 L79.41,546.52 L79.59,547.32 L79.80,548.14 L80.04,548.95 L80.30,549.76 L80.58,550.54 L80.89,551.29 L81.23,552.00 L81.58,552.67 L81.97,553.31 L82.38,553.90 L82.81,554.46 L83.27,554.98 L83.75,555.46 L84.26,555.91 L84.79,556.32 L85.35,556.71 L85.93,557.07 L86.54,557.40 L87.17,557.71 L87.82,558.00 L88.50,558.26 L89.21,558.51 L89.94,558.75 L90.69,558.96 L91.47,559.17 L92.28,559.36 L93.11,559.54 L93.96,559.70 L94.84,559.86 L95.74,560.01 L96.67,560.15 L97.62,560.28 L98.60,560.40 L99.60,560.52 L100.63,560.63 L101.68,560.74 L102.76,560.84 L103.86,560.93 L104.99,561.02 L106.14,561.11 L107.31,561.19 L108.52,561.27 L109.74,561.35 L110.99,561.42 L112.27,561.49 L113.56,561.56 L114.89,561.62 L116.24,561.69 L117.61,561.75 L119.01,561.80 L120.43,561.86 L121.88,561.91 L123.35,561.97 L124.85,562.02 L126.37,562.07 L127.92,562.12 L129.49,562.16 L131.09,562.21 L132.71,562.25 L134.36,562.30 L136.03,562.34 L137.72,562.38 L139.44,562.42 L141.19,562.46 L142.96,562.50 L144.75,562.54 L146.57,562.58 L148.42,562.62 L150.29,562.66 L152.18,562.69 L154.10,562.73 L156.04,562.76 L158.01,562.80 L158.70,562.85 L159.69,562.90 L160.68,562.95 L161.67,563.00 L162.66,563.05 L163.66,563.10 L164.65,563.15 L165.64,563.20 L166.63,563.25 L167.62,563.30 L168.61,563.35 L169.60,563.40 L170.59,563.45 L171.58,563.50 L172.58,563.55 L173.57,563.60 L174.56,563.65 L175.55,563.70 L176.54,563.75 L177.53,563.80 L178.52,563.85 L179.51,563.90 L180.50,563.95 L181.50,564.01 L182.49,564.06 L183.48,564.11 L184.47,564.17 L185.46,564.22 L186.45,564.28 L187.44,564.33 L188.43,564.39 L189.42,564.44 L190.42,564.50 L191.41,564.56 L192.40,564.62 L193.39,564.69 L194.38,564.75 L195.37,564.81 L196.36,564.88 L197.35,564.95 L198.35,565.02 L199.34,565.10 L200.33,565.18 L201.32,565.26 L202.31,565.34 L203.30,565.43 L204.29,565.52 L205.28,565.62 L206.27,565.73 L207.27,565.84 L208.26,565.96 L209.25,566.09 L210.24,566.23 L211.23,566.38 L212.22,566.54 L213.21,566.71 L214.20,566.90 L215.19,567.10 L216.19,567.33 L217.18,567.57 L218.17,567.84 L219.16,568.13 L220.15,568.45 L221.14,568.81 L222.13,569.20 L223.12,569.63 L224.12,570.11 L225.11,570.64 L226.10,571.22 L227.09,571.87 L228.08,572.60 L229.07,573.40 L230.06,574.29 L231.05,575.28 L232.04,576.38 L233.04,577.61 L234.03,578.98 L235.02,580.51 L236.01,582.21 L237.00,584.12 L237.00,562.80Z" fill="#bdbec0" stroke="none"/>
<line x1="78.50" y1="562.80" x2="237.00" y2="562.80" stroke="#a9a9a9" stroke-width="0.7"/>
<rect x="141.71" y="560.90" width="32.70" height="3.80" fill="#fff"/>
<text x="157.71" y="564.40" font-size="4.3" text-anchor="middle" textLength="31.40" lengthAdjust="spacingAndGlyphs">Zero cross at 7022</text>
<text x="81.10" y="547.20" font-size="6.5" fill="#d43d54" textLength="69.70" lengthAdjust="spacingAndGlyphs">&#8216;Pev&#8217; (positively correlated)</text>
<text x="148.70" y="584.10" font-size="6.5" fill="#3273b4" textLength="76.40" lengthAdjust="spacingAndGlyphs">&#8216;Ctrl&#8217; (negatively correlated)</text>
<line x1="78.50" y1="438.60" x2="244.50" y2="438.60" stroke="#231f20" stroke-width="1.0"/>
<line x1="244.50" y1="438.60" x2="244.50" y2="586.50" stroke="#231f20" stroke-width="1.0"/>
<line x1="78.50" y1="509.50" x2="244.50" y2="509.50" stroke="#231f20" stroke-width="1.0"/>
<line x1="78.50" y1="533.40" x2="244.50" y2="533.40" stroke="#231f20" stroke-width="1.0"/>
<line x1="78.50" y1="539.40" x2="244.50" y2="539.40" stroke="#6a6a6a" stroke-width="1.0"/>
<line x1="78.05" y1="586.50" x2="244.95" y2="586.50" stroke="#231f20" stroke-width="0.9"/>
<line x1="78.50" y1="438.15" x2="78.50" y2="588.70" stroke="#231f20" stroke-width="0.9"/>
<line x1="75.90" y1="442.40" x2="78.50" y2="442.40" stroke="#231f20" stroke-width="0.8"/>
<text x="74.40" y="444.70" font-size="6.3" text-anchor="end">0.5</text>
<line x1="75.90" y1="454.08" x2="78.50" y2="454.08" stroke="#231f20" stroke-width="0.8"/>
<text x="74.40" y="456.38" font-size="6.3" text-anchor="end">0.4</text>
<line x1="75.90" y1="465.76" x2="78.50" y2="465.76" stroke="#231f20" stroke-width="0.8"/>
<text x="74.40" y="468.06" font-size="6.3" text-anchor="end">0.3</text>
<line x1="75.90" y1="477.44" x2="78.50" y2="477.44" stroke="#231f20" stroke-width="0.8"/>
<text x="74.40" y="479.74" font-size="6.3" text-anchor="end">0.2</text>
<line x1="75.90" y1="489.12" x2="78.50" y2="489.12" stroke="#231f20" stroke-width="0.8"/>
<text x="74.40" y="491.42" font-size="6.3" text-anchor="end">0.1</text>
<line x1="75.90" y1="500.80" x2="78.50" y2="500.80" stroke="#231f20" stroke-width="0.8"/>
<text x="74.40" y="503.10" font-size="6.3" text-anchor="end">0.0</text>
<line x1="75.90" y1="545.40" x2="78.50" y2="545.40" stroke="#231f20" stroke-width="0.8"/>
<text x="74.50" y="547.70" font-size="6.3" text-anchor="end">4</text>
<line x1="75.90" y1="554.10" x2="78.50" y2="554.10" stroke="#231f20" stroke-width="0.8"/>
<text x="74.50" y="556.40" font-size="6.3" text-anchor="end">2</text>
<line x1="75.90" y1="562.80" x2="78.50" y2="562.80" stroke="#231f20" stroke-width="0.8"/>
<text x="74.50" y="565.10" font-size="6.3" text-anchor="end">0</text>
<line x1="75.90" y1="571.50" x2="78.50" y2="571.50" stroke="#231f20" stroke-width="0.8"/>
<text x="74.50" y="573.80" font-size="6.3" text-anchor="end">&#8722;2</text>
<line x1="75.90" y1="580.20" x2="78.50" y2="580.20" stroke="#231f20" stroke-width="0.8"/>
<text x="74.50" y="582.50" font-size="6.3" text-anchor="end">&#8722;4</text>
<line x1="78.50" y1="586.50" x2="78.50" y2="588.70" stroke="#231f20" stroke-width="0.8"/>
<text x="78.50" y="596.70" font-size="6.3" text-anchor="middle">0</text>
<line x1="101.06" y1="586.50" x2="101.06" y2="588.70" stroke="#231f20" stroke-width="0.8"/>
<text x="101.06" y="596.70" font-size="6.3" text-anchor="middle">2,000</text>
<line x1="123.62" y1="586.50" x2="123.62" y2="588.70" stroke="#231f20" stroke-width="0.8"/>
<text x="123.62" y="596.70" font-size="6.3" text-anchor="middle">4,000</text>
<line x1="146.18" y1="586.50" x2="146.18" y2="588.70" stroke="#231f20" stroke-width="0.8"/>
<text x="146.18" y="596.70" font-size="6.3" text-anchor="middle">6,000</text>
<line x1="168.74" y1="586.50" x2="168.74" y2="588.70" stroke="#231f20" stroke-width="0.8"/>
<text x="168.74" y="596.70" font-size="6.3" text-anchor="middle">8,000</text>
<line x1="191.30" y1="586.50" x2="191.30" y2="588.70" stroke="#231f20" stroke-width="0.8"/>
<text x="191.30" y="596.70" font-size="6.3" text-anchor="middle">10,000</text>
<line x1="213.86" y1="586.50" x2="213.86" y2="588.70" stroke="#231f20" stroke-width="0.8"/>
<text x="213.86" y="596.70" font-size="6.3" text-anchor="middle">12,000</text>
<line x1="236.42" y1="586.50" x2="236.42" y2="588.70" stroke="#231f20" stroke-width="0.8"/>
<text x="236.42" y="596.70" font-size="6.3" text-anchor="middle">14,000</text>
<text x="166.80" y="605.10" font-size="7.6" text-anchor="middle" fill="#3a3a3a" font-weight="bold" textLength="56.80" lengthAdjust="spacingAndGlyphs">Rank in ordered dataset</text>
<text x="62.60" y="504.30" font-size="7.6" fill="#3a3a3a" font-weight="bold" textLength="54.30" lengthAdjust="spacingAndGlyphs" transform="rotate(-90 62.60 504.30)">Enrichment score (ES)</text>
<text x="64.60" y="608.10" font-size="7.2" fill="#3a3a3a" font-weight="bold" textLength="78.30" lengthAdjust="spacingAndGlyphs" transform="rotate(-90 64.60 608.10)">Ranked list metric (signal2noise)</text>
<rect x="80.20" y="608.40" width="166.50" height="8.20" fill="none" stroke="#231f20" stroke-width="0.9"/>
<line x1="82.60" y1="612.50" x2="88.40" y2="612.50" stroke="#1fa83c" stroke-width="1.5"/>
<text x="89.70" y="614.70" font-size="6.6" textLength="47.00" lengthAdjust="spacingAndGlyphs">Enrichment profile</text>
<line x1="150.60" y1="612.50" x2="155.50" y2="612.50" stroke="#444" stroke-width="0.6"/>
<text x="156.80" y="614.70" font-size="6.6" textLength="10.40" lengthAdjust="spacingAndGlyphs">Hits</text>
<line x1="176.40" y1="612.50" x2="182.50" y2="612.50" stroke="#888" stroke-width="0.6"/>
<text x="183.70" y="614.70" font-size="6.6" textLength="57.30" lengthAdjust="spacingAndGlyphs">Ranking metric scores</text>
<text x="87.20" y="478.90" font-size="6.4" fill="#333" textLength="29.60" lengthAdjust="spacingAndGlyphs">NES: 1.82</text>
<text x="87.20" y="487.80" font-size="6.4" fill="#333" textLength="39.50" lengthAdjust="spacingAndGlyphs"><tspan font-style="italic">p-value:</tspan> 0.000</text>
<text x="87.20" y="496.60" font-size="6.4" fill="#333" textLength="46.20" lengthAdjust="spacingAndGlyphs">FDR <tspan font-style="italic">q-val:</tspan> 0.002</text>
<text x="158.75" y="636.30" font-size="8.1" text-anchor="middle" textLength="34.60" lengthAdjust="spacingAndGlyphs">Apoptosis</text>
<line x1="76.50" y1="703.80" x2="242.60" y2="703.80" stroke="#bdbdbd" stroke-width="0.9"/>
<polyline points="76.60,703.80 77.10,693.40 77.80,678.70 78.80,672.60 79.70,666.60 80.60,665.30 81.60,667.10 83.00,663.10 84.70,658.80 86.50,654.40 88.70,652.70 90.40,651.00 92.20,648.40 94.40,647.50 96.50,645.30 98.60,644.60 100.30,645.30 102.60,647.50 105.20,648.70 108.60,649.60 119.00,655.30 125.90,659.60 134.60,665.30 143.20,670.90 151.90,676.40 158.00,680.40 166.70,686.10 173.60,691.70 177.90,693.40 182.20,696.80 188.30,700.00 191.20,698.60 197.00,701.20 200.40,703.40 204.70,703.80 208.20,705.20 210.80,706.40 213.40,707.60 215.10,708.60 217.70,706.90 221.20,705.80 223.40,708.10 225.20,709.30 226.40,706.90 228.10,707.60 229.30,702.00 230.70,700.30 232.10,702.00 234.20,703.40" fill="none" stroke="#1fa83c" stroke-width="1.75" stroke-linejoin="round"/>
<rect x="77" y="713.00" width="2" height="22.90" fill="rgb(24,24,24)"/>
<rect x="79" y="713.00" width="1" height="22.90" fill="rgb(37,37,37)"/>
<rect x="80" y="713.00" width="1" height="22.90" fill="rgb(99,99,99)"/>
<rect x="81" y="713.00" width="1" height="22.90" fill="rgb(234,234,234)"/>
<rect x="82" y="713.00" width="1" height="22.90" fill="rgb(82,82,82)"/>
<rect x="83" y="713.00" width="2" height="22.90" fill="rgb(66,66,66)"/>
<rect x="85" y="713.00" width="1" height="22.90" fill="rgb(37,37,37)"/>
<rect x="86" y="713.00" width="1" height="22.90" fill="rgb(24,24,24)"/>
<rect x="87" y="713.00" width="1" height="22.90" fill="rgb(51,51,51)"/>
<rect x="88" y="713.00" width="1" height="22.90" fill="rgb(173,173,173)"/>
<rect x="89" y="713.00" width="2" height="22.90" fill="rgb(82,82,82)"/>
<rect x="91" y="713.00" width="1" height="22.90" fill="rgb(66,66,66)"/>
<rect x="92" y="713.00" width="1" height="22.90" fill="rgb(24,24,24)"/>
<rect x="93" y="713.00" width="1" height="22.90" fill="rgb(117,117,117)"/>
<rect x="94" y="713.00" width="1" height="22.90" fill="rgb(135,135,135)"/>
<rect x="95" y="713.00" width="1" height="22.90" fill="rgb(99,99,99)"/>
<rect x="96" y="713.00" width="1" height="22.90" fill="rgb(3,3,3)"/>
<rect x="97" y="713.00" width="1" height="22.90" fill="rgb(193,193,193)"/>
<rect x="98" y="713.00" width="2" height="22.90" fill="rgb(135,135,135)"/>
<rect x="105" y="713.00" width="1" height="22.90" fill="rgb(193,193,193)"/>
<rect x="106" y="713.00" width="1" height="22.90" fill="rgb(135,135,135)"/>
<rect x="107" y="713.00" width="1" height="22.90" fill="rgb(173,173,173)"/>
<rect x="108" y="713.00" width="1" height="22.90" fill="rgb(193,193,193)"/>
<rect x="109" y="713.00" width="1" height="22.90" fill="rgb(173,173,173)"/>
<rect x="111" y="713.00" width="1" height="22.90" fill="rgb(135,135,135)"/>
<rect x="112" y="713.00" width="1" height="22.90" fill="rgb(117,117,117)"/>
<rect x="113" y="713.00" width="5" height="22.90" fill="rgb(173,173,173)"/>
<rect x="118" y="713.00" width="1" height="22.90" fill="rgb(135,135,135)"/>
<rect x="120" y="713.00" width="3" height="22.90" fill="rgb(154,154,154)"/>
<rect x="123" y="713.00" width="1" height="22.90" fill="rgb(135,135,135)"/>
<rect x="124" y="713.00" width="1" height="22.90" fill="rgb(117,117,117)"/>
<rect x="126" y="713.00" width="1" height="22.90" fill="rgb(135,135,135)"/>
<rect x="127" y="713.00" width="1" height="22.90" fill="rgb(173,173,173)"/>
<rect x="128" y="713.00" width="3" height="22.90" fill="rgb(193,193,193)"/>
<rect x="131" y="713.00" width="1" height="22.90" fill="rgb(66,66,66)"/>
<rect x="132" y="713.00" width="1" height="22.90" fill="rgb(213,213,213)"/>
<rect x="135" y="713.00" width="1" height="22.90" fill="rgb(154,154,154)"/>
<rect x="136" y="713.00" width="1" height="22.90" fill="rgb(173,173,173)"/>
<rect x="137" y="713.00" width="1" height="22.90" fill="rgb(135,135,135)"/>
<rect x="138" y="713.00" width="1" height="22.90" fill="rgb(117,117,117)"/>
<rect x="141" y="713.00" width="1" height="22.90" fill="rgb(24,24,24)"/>
<rect x="142" y="713.00" width="1" height="22.90" fill="rgb(66,66,66)"/>
<rect x="143" y="713.00" width="1" height="22.90" fill="rgb(154,154,154)"/>
<rect x="144" y="713.00" width="1" height="22.90" fill="rgb(234,234,234)"/>
<rect x="145" y="713.00" width="1" height="22.90" fill="rgb(117,117,117)"/>
<rect x="146" y="713.00" width="1" height="22.90" fill="rgb(154,154,154)"/>
<rect x="147" y="713.00" width="2" height="22.90" fill="rgb(173,173,173)"/>
<rect x="149" y="713.00" width="1" height="22.90" fill="rgb(234,234,234)"/>
<rect x="150" y="713.00" width="1" height="22.90" fill="rgb(66,66,66)"/>
<rect x="152" y="713.00" width="1" height="22.90" fill="rgb(66,66,66)"/>
<rect x="153" y="713.00" width="1" height="22.90" fill="rgb(135,135,135)"/>
<rect x="156" y="713.00" width="1" height="22.90" fill="rgb(135,135,135)"/>
<rect x="157" y="713.00" width="1" height="22.90" fill="rgb(193,193,193)"/>
<rect x="158" y="713.00" width="1" height="22.90" fill="rgb(135,135,135)"/>
<rect x="159" y="713.00" width="1" height="22.90" fill="rgb(193,193,193)"/>
<rect x="160" y="713.00" width="1" height="22.90" fill="rgb(213,213,213)"/>
<rect x="162" y="713.00" width="1" height="22.90" fill="rgb(66,66,66)"/>
<rect x="163" y="713.00" width="1" height="22.90" fill="rgb(154,154,154)"/>
<rect x="164" y="713.00" width="1" height="22.90" fill="rgb(173,173,173)"/>
<rect x="165" y="713.00" width="1" height="22.90" fill="rgb(154,154,154)"/>
<rect x="166" y="713.00" width="1" height="22.90" fill="rgb(173,173,173)"/>
<rect x="167" y="713.00" width="1" height="22.90" fill="rgb(193,193,193)"/>
<rect x="169" y="713.00" width="1" height="22.90" fill="rgb(234,234,234)"/>
<rect x="170" y="713.00" width="3" height="22.90" fill="rgb(135,135,135)"/>
<rect x="173" y="713.00" width="1" height="22.90" fill="rgb(154,154,154)"/>
<rect x="174" y="713.00" width="2" height="22.90" fill="rgb(193,193,193)"/>
<rect x="176" y="713.00" width="1" height="22.90" fill="rgb(3,3,3)"/>
<rect x="177" y="713.00" width="1" height="22.90" fill="rgb(12,12,12)"/>
<rect x="178" y="713.00" width="1" height="22.90" fill="rgb(213,213,213)"/>
<rect x="179" y="713.00" width="3" height="22.90" fill="rgb(154,154,154)"/>
<rect x="182" y="713.00" width="1" height="22.90" fill="rgb(173,173,173)"/>
<rect x="183" y="713.00" width="1" height="22.90" fill="rgb(234,234,234)"/>
<rect x="184" y="713.00" width="1" height="22.90" fill="rgb(154,154,154)"/>
<rect x="185" y="713.00" width="1" height="22.90" fill="rgb(193,193,193)"/>
<rect x="186" y="713.00" width="1" height="22.90" fill="rgb(234,234,234)"/>
<rect x="187" y="713.00" width="1" height="22.90" fill="rgb(99,99,99)"/>
<rect x="188" y="713.00" width="2" height="22.90" fill="rgb(82,82,82)"/>
<rect x="190" y="713.00" width="1" height="22.90" fill="rgb(99,99,99)"/>
<rect x="191" y="713.00" width="1" height="22.90" fill="rgb(234,234,234)"/>
<rect x="192" y="713.00" width="4" height="22.90" fill="rgb(154,154,154)"/>
<rect x="196" y="713.00" width="1" height="22.90" fill="rgb(135,135,135)"/>
<rect x="197" y="713.00" width="1" height="22.90" fill="rgb(173,173,173)"/>
<rect x="200" y="713.00" width="1" height="22.90" fill="rgb(193,193,193)"/>
<rect x="201" y="713.00" width="1" height="22.90" fill="rgb(51,51,51)"/>
<rect x="202" y="713.00" width="5" height="22.90" fill="rgb(154,154,154)"/>
<rect x="207" y="713.00" width="1" height="22.90" fill="rgb(234,234,234)"/>
<rect x="209" y="713.00" width="2" height="22.90" fill="rgb(154,154,154)"/>
<rect x="213" y="713.00" width="3" height="22.90" fill="rgb(173,173,173)"/>
<rect x="216" y="713.00" width="1" height="22.90" fill="rgb(117,117,117)"/>
<rect x="217" y="713.00" width="1" height="22.90" fill="rgb(135,135,135)"/>
<rect x="218" y="713.00" width="1" height="22.90" fill="rgb(213,213,213)"/>
<rect x="219" y="713.00" width="1" height="22.90" fill="rgb(117,117,117)"/>
<rect x="220" y="713.00" width="1" height="22.90" fill="rgb(135,135,135)"/>
<rect x="221" y="713.00" width="1" height="22.90" fill="rgb(234,234,234)"/>
<rect x="225" y="713.00" width="1" height="22.90" fill="rgb(135,135,135)"/>
<rect x="226" y="713.00" width="1" height="22.90" fill="rgb(173,173,173)"/>
<rect x="228" y="713.00" width="1" height="22.90" fill="rgb(213,213,213)"/>
<rect x="229" y="713.00" width="1" height="22.90" fill="rgb(117,117,117)"/>
<rect x="230" y="713.00" width="1" height="22.90" fill="rgb(173,173,173)"/>
<defs><linearGradient id="d3g" x1="0" x2="1" y1="0" y2="0"><stop offset="0" stop-color="#e8404c"/><stop offset="0.122" stop-color="#ea4c58"/><stop offset="0.124" stop-color="#ee6a7c"/><stop offset="0.315" stop-color="#f07c88"/><stop offset="0.317" stop-color="#f2b8d6"/><stop offset="0.495" stop-color="#f0c4e2"/><stop offset="0.5" stop-color="#dcd8f4"/><stop offset="0.69" stop-color="#d0ccf0"/><stop offset="0.79" stop-color="#c0bce8"/><stop offset="0.792" stop-color="#8480d0"/><stop offset="0.85" stop-color="#6c68c4"/><stop offset="0.94" stop-color="#5450b4"/><stop offset="0.942" stop-color="#3c38a8"/><stop offset="1.0" stop-color="#3430a2"/></linearGradient></defs>
<rect x="76.50" y="736.90" width="158.50" height="4.60" fill="url(#d3g)"/>
<path d="M76.80,765.80 L76.80,746.22 L76.81,746.31 L76.85,746.54 L76.91,746.93 L77.00,747.44 L77.11,748.06 L77.25,748.76 L77.41,749.52 L77.59,750.32 L77.80,751.14 L78.04,751.95 L78.30,752.76 L78.58,753.54 L78.89,754.29 L79.23,755.00 L79.58,755.67 L79.97,756.31 L80.38,756.90 L80.81,757.46 L81.27,757.98 L81.75,758.46 L82.26,758.91 L82.79,759.32 L83.35,759.71 L83.93,760.07 L84.54,760.40 L85.17,760.71 L85.82,761.00 L86.50,761.26 L87.21,761.51 L87.94,761.75 L88.69,761.96 L89.47,762.17 L90.28,762.36 L91.11,762.54 L91.96,762.70 L92.84,762.86 L93.74,763.01 L94.67,763.15 L95.62,763.28 L96.60,763.40 L97.60,763.52 L98.63,763.63 L99.68,763.74 L100.76,763.84 L101.86,763.93 L102.99,764.02 L104.14,764.11 L105.31,764.19 L106.52,764.27 L107.74,764.35 L108.99,764.42 L110.27,764.49 L111.56,764.56 L112.89,764.62 L114.24,764.69 L115.61,764.75 L117.01,764.80 L118.43,764.86 L119.88,764.91 L121.35,764.97 L122.85,765.02 L124.37,765.07 L125.92,765.12 L127.49,765.16 L129.09,765.21 L130.71,765.25 L132.36,765.30 L134.03,765.34 L135.72,765.38 L137.44,765.42 L139.19,765.46 L140.96,765.50 L142.75,765.54 L144.57,765.58 L146.42,765.62 L148.29,765.66 L150.18,765.69 L152.10,765.73 L154.04,765.76 L156.01,765.80 L156.70,765.85 L157.69,765.90 L158.68,765.95 L159.67,766.00 L160.66,766.05 L161.66,766.10 L162.65,766.15 L163.64,766.20 L164.63,766.25 L165.62,766.30 L166.61,766.35 L167.60,766.40 L168.59,766.45 L169.58,766.50 L170.58,766.55 L171.57,766.60 L172.56,766.65 L173.55,766.70 L174.54,766.75 L175.53,766.80 L176.52,766.85 L177.51,766.90 L178.50,766.95 L179.50,767.01 L180.49,767.06 L181.48,767.11 L182.47,767.17 L183.46,767.22 L184.45,767.28 L185.44,767.33 L186.43,767.39 L187.42,767.44 L188.42,767.50 L189.41,767.56 L190.40,767.62 L191.39,767.69 L192.38,767.75 L193.37,767.81 L194.36,767.88 L195.35,767.95 L196.35,768.02 L197.34,768.10 L198.33,768.18 L199.32,768.26 L200.31,768.34 L201.30,768.43 L202.29,768.52 L203.28,768.62 L204.27,768.73 L205.27,768.84 L206.26,768.96 L207.25,769.09 L208.24,769.23 L209.23,769.38 L210.22,769.54 L211.21,769.71 L212.20,769.90 L213.19,770.10 L214.19,770.33 L215.18,770.57 L216.17,770.84 L217.16,771.13 L218.15,771.45 L219.14,771.81 L220.13,772.20 L221.12,772.63 L222.12,773.11 L223.11,773.64 L224.10,774.22 L225.09,774.87 L226.08,775.60 L227.07,776.40 L228.06,777.29 L229.05,778.28 L230.04,779.38 L231.04,780.61 L232.03,781.98 L233.02,783.51 L234.01,785.21 L235.00,787.12 L235.00,765.80Z" fill="#bdbec0" stroke="none"/>
<line x1="76.50" y1="765.80" x2="235.00" y2="765.80" stroke="#a9a9a9" stroke-width="0.7"/>
<rect x="139.71" y="763.90" width="32.70" height="3.80" fill="#fff"/>
<text x="155.71" y="767.40" font-size="4.3" text-anchor="middle" textLength="31.40" lengthAdjust="spacingAndGlyphs">Zero cross at 7022</text>
<text x="79.60" y="749.80" font-size="6.5" fill="#d43d54" textLength="69.20" lengthAdjust="spacingAndGlyphs">&#8216;Pev&#8217; (positively correlated)</text>
<text x="151.20" y="787.00" font-size="6.5" fill="#3273b4" textLength="70.50" lengthAdjust="spacingAndGlyphs">&#8216;Ctrl&#8217; (negatively correlated)</text>
<line x1="76.50" y1="641.60" x2="242.60" y2="641.60" stroke="#231f20" stroke-width="1.0"/>
<line x1="242.60" y1="641.60" x2="242.60" y2="789.50" stroke="#231f20" stroke-width="1.0"/>
<line x1="76.50" y1="712.50" x2="242.60" y2="712.50" stroke="#231f20" stroke-width="1.0"/>
<line x1="76.50" y1="736.40" x2="242.60" y2="736.40" stroke="#231f20" stroke-width="1.0"/>
<line x1="76.50" y1="742.00" x2="242.60" y2="742.00" stroke="#6a6a6a" stroke-width="1.0"/>
<line x1="76.05" y1="789.50" x2="243.05" y2="789.50" stroke="#231f20" stroke-width="0.9"/>
<line x1="76.50" y1="641.15" x2="76.50" y2="791.70" stroke="#231f20" stroke-width="0.9"/>
<line x1="73.90" y1="645.20" x2="76.50" y2="645.20" stroke="#231f20" stroke-width="0.8"/>
<text x="72.40" y="647.50" font-size="6.3" text-anchor="end">0.5</text>
<line x1="73.90" y1="656.92" x2="76.50" y2="656.92" stroke="#231f20" stroke-width="0.8"/>
<text x="72.40" y="659.22" font-size="6.3" text-anchor="end">0.4</text>
<line x1="73.90" y1="668.64" x2="76.50" y2="668.64" stroke="#231f20" stroke-width="0.8"/>
<text x="72.40" y="670.94" font-size="6.3" text-anchor="end">0.3</text>
<line x1="73.90" y1="680.36" x2="76.50" y2="680.36" stroke="#231f20" stroke-width="0.8"/>
<text x="72.40" y="682.66" font-size="6.3" text-anchor="end">0.2</text>
<line x1="73.90" y1="692.08" x2="76.50" y2="692.08" stroke="#231f20" stroke-width="0.8"/>
<text x="72.40" y="694.38" font-size="6.3" text-anchor="end">0.1</text>
<line x1="73.90" y1="703.80" x2="76.50" y2="703.80" stroke="#231f20" stroke-width="0.8"/>
<text x="72.40" y="706.10" font-size="6.3" text-anchor="end">0.0</text>
<line x1="73.90" y1="748.40" x2="76.50" y2="748.40" stroke="#231f20" stroke-width="0.8"/>
<text x="72.50" y="750.70" font-size="6.3" text-anchor="end">4</text>
<line x1="73.90" y1="757.10" x2="76.50" y2="757.10" stroke="#231f20" stroke-width="0.8"/>
<text x="72.50" y="759.40" font-size="6.3" text-anchor="end">2</text>
<line x1="73.90" y1="765.80" x2="76.50" y2="765.80" stroke="#231f20" stroke-width="0.8"/>
<text x="72.50" y="768.10" font-size="6.3" text-anchor="end">0</text>
<line x1="73.90" y1="774.50" x2="76.50" y2="774.50" stroke="#231f20" stroke-width="0.8"/>
<text x="72.50" y="776.80" font-size="6.3" text-anchor="end">&#8722;2</text>
<line x1="73.90" y1="783.20" x2="76.50" y2="783.20" stroke="#231f20" stroke-width="0.8"/>
<text x="72.50" y="785.50" font-size="6.3" text-anchor="end">&#8722;4</text>
<line x1="76.50" y1="789.50" x2="76.50" y2="791.70" stroke="#231f20" stroke-width="0.8"/>
<text x="76.50" y="799.70" font-size="6.3" text-anchor="middle">0</text>
<line x1="99.06" y1="789.50" x2="99.06" y2="791.70" stroke="#231f20" stroke-width="0.8"/>
<text x="99.06" y="799.70" font-size="6.3" text-anchor="middle">2,000</text>
<line x1="121.62" y1="789.50" x2="121.62" y2="791.70" stroke="#231f20" stroke-width="0.8"/>
<text x="121.62" y="799.70" font-size="6.3" text-anchor="middle">4,000</text>
<line x1="144.18" y1="789.50" x2="144.18" y2="791.70" stroke="#231f20" stroke-width="0.8"/>
<text x="144.18" y="799.70" font-size="6.3" text-anchor="middle">6,000</text>
<line x1="166.74" y1="789.50" x2="166.74" y2="791.70" stroke="#231f20" stroke-width="0.8"/>
<text x="166.74" y="799.70" font-size="6.3" text-anchor="middle">8,000</text>
<line x1="189.30" y1="789.50" x2="189.30" y2="791.70" stroke="#231f20" stroke-width="0.8"/>
<text x="189.30" y="799.70" font-size="6.3" text-anchor="middle">10,000</text>
<line x1="211.86" y1="789.50" x2="211.86" y2="791.70" stroke="#231f20" stroke-width="0.8"/>
<text x="211.86" y="799.70" font-size="6.3" text-anchor="middle">12,000</text>
<line x1="234.42" y1="789.50" x2="234.42" y2="791.70" stroke="#231f20" stroke-width="0.8"/>
<text x="234.42" y="799.70" font-size="6.3" text-anchor="middle">14,000</text>
<text x="164.85" y="808.10" font-size="7.6" text-anchor="middle" fill="#3a3a3a" font-weight="bold" textLength="56.80" lengthAdjust="spacingAndGlyphs">Rank in ordered dataset</text>
<text x="58.00" y="707.20" font-size="7.6" fill="#3a3a3a" font-weight="bold" textLength="54.30" lengthAdjust="spacingAndGlyphs" transform="rotate(-90 58.00 707.20)">Enrichment score (ES)</text>
<text x="62.40" y="811.00" font-size="7.2" fill="#3a3a3a" font-weight="bold" textLength="78.30" lengthAdjust="spacingAndGlyphs" transform="rotate(-90 62.40 811.00)">Ranked list metric (signal2noise)</text>
<rect x="79.20" y="811.40" width="166.50" height="8.20" fill="none" stroke="#231f20" stroke-width="0.9"/>
<line x1="81.60" y1="815.50" x2="87.40" y2="815.50" stroke="#1fa83c" stroke-width="1.5"/>
<text x="88.70" y="817.70" font-size="6.6" textLength="47.00" lengthAdjust="spacingAndGlyphs">Enrichment profile</text>
<line x1="149.60" y1="815.50" x2="154.50" y2="815.50" stroke="#444" stroke-width="0.6"/>
<text x="155.80" y="817.70" font-size="6.6" textLength="10.40" lengthAdjust="spacingAndGlyphs">Hits</text>
<line x1="175.40" y1="815.50" x2="181.50" y2="815.50" stroke="#888" stroke-width="0.6"/>
<text x="182.70" y="817.70" font-size="6.6" textLength="57.30" lengthAdjust="spacingAndGlyphs">Ranking metric scores</text>
<text x="86.50" y="682.10" font-size="6.4" fill="#333" textLength="29.60" lengthAdjust="spacingAndGlyphs">NES: 1.69</text>
<text x="86.50" y="691.00" font-size="6.4" fill="#333" textLength="39.50" lengthAdjust="spacingAndGlyphs"><tspan font-style="italic">p-value:</tspan> 0.000</text>
<text x="86.50" y="699.80" font-size="6.4" fill="#333" textLength="46.20" lengthAdjust="spacingAndGlyphs">FDR <tspan font-style="italic">q-val:</tspan> 0.016</text>
<text x="389.45" y="234.20" font-size="8.1" text-anchor="middle" textLength="82.70" lengthAdjust="spacingAndGlyphs">TNF&#945; signaling via NF&#954;B</text>
<line x1="306.30" y1="242.70" x2="472.60" y2="242.70" stroke="#bdbdbd" stroke-width="0.9"/>
<polyline points="306.40,242.90 308.70,243.30 310.40,244.70 313.00,245.50 315.60,245.00 318.20,246.40 321.60,247.20 325.10,248.50 328.60,249.50 332.00,251.60 336.30,253.00 341.50,255.00 346.70,257.60 351.90,260.20 360.60,264.60 369.20,268.90 377.90,274.10 385.00,277.50 390.20,280.70 395.40,282.70 402.30,286.50 411.00,291.40 419.60,296.20 428.30,300.90 435.20,303.50 442.10,306.10 445.60,305.60 449.00,306.60 453.40,306.60 455.10,304.40 456.00,300.00 457.70,295.70 459.10,291.40 460.30,282.70 461.20,275.80 462.00,262.00 462.90,253.30 463.20,242.90" fill="none" stroke="#1fa83c" stroke-width="1.75" stroke-linejoin="round"/>
<rect x="307" y="310.80" width="1" height="22.10" fill="rgb(213,213,213)"/>
<rect x="308" y="310.80" width="1" height="22.10" fill="rgb(135,135,135)"/>
<rect x="313" y="310.80" width="1" height="22.10" fill="rgb(213,213,213)"/>
<rect x="314" y="310.80" width="1" height="22.10" fill="rgb(66,66,66)"/>
<rect x="315" y="310.80" width="1" height="22.10" fill="rgb(99,99,99)"/>
<rect x="317" y="310.80" width="1" height="22.10" fill="rgb(234,234,234)"/>
<rect x="318" y="310.80" width="1" height="22.10" fill="rgb(135,135,135)"/>
<rect x="319" y="310.80" width="1" height="22.10" fill="rgb(117,117,117)"/>
<rect x="320" y="310.80" width="1" height="22.10" fill="rgb(66,66,66)"/>
<rect x="321" y="310.80" width="1" height="22.10" fill="rgb(173,173,173)"/>
<rect x="322" y="310.80" width="1" height="22.10" fill="rgb(193,193,193)"/>
<rect x="323" y="310.80" width="1" height="22.10" fill="rgb(154,154,154)"/>
<rect x="324" y="310.80" width="3" height="22.10" fill="rgb(193,193,193)"/>
<rect x="327" y="310.80" width="1" height="22.10" fill="rgb(99,99,99)"/>
<rect x="328" y="310.80" width="1" height="22.10" fill="rgb(12,12,12)"/>
<rect x="329" y="310.80" width="1" height="22.10" fill="rgb(234,234,234)"/>
<rect x="330" y="310.80" width="4" height="22.10" fill="rgb(173,173,173)"/>
<rect x="334" y="310.80" width="1" height="22.10" fill="rgb(154,154,154)"/>
<rect x="335" y="310.80" width="1" height="22.10" fill="rgb(37,37,37)"/>
<rect x="336" y="310.80" width="1" height="22.10" fill="rgb(213,213,213)"/>
<rect x="337" y="310.80" width="3" height="22.10" fill="rgb(135,135,135)"/>
<rect x="340" y="310.80" width="1" height="22.10" fill="rgb(154,154,154)"/>
<rect x="342" y="310.80" width="1" height="22.10" fill="rgb(66,66,66)"/>
<rect x="343" y="310.80" width="1" height="22.10" fill="rgb(99,99,99)"/>
<rect x="346" y="310.80" width="1" height="22.10" fill="rgb(173,173,173)"/>
<rect x="347" y="310.80" width="1" height="22.10" fill="rgb(213,213,213)"/>
<rect x="350" y="310.80" width="1" height="22.10" fill="rgb(51,51,51)"/>
<rect x="351" y="310.80" width="2" height="22.10" fill="rgb(193,193,193)"/>
<rect x="353" y="310.80" width="1" height="22.10" fill="rgb(173,173,173)"/>
<rect x="354" y="310.80" width="2" height="22.10" fill="rgb(154,154,154)"/>
<rect x="356" y="310.80" width="1" height="22.10" fill="rgb(173,173,173)"/>
<rect x="359" y="310.80" width="1" height="22.10" fill="rgb(66,66,66)"/>
<rect x="360" y="310.80" width="1" height="22.10" fill="rgb(234,234,234)"/>
<rect x="361" y="310.80" width="1" height="22.10" fill="rgb(99,99,99)"/>
<rect x="362" y="310.80" width="2" height="22.10" fill="rgb(82,82,82)"/>
<rect x="364" y="310.80" width="2" height="22.10" fill="rgb(154,154,154)"/>
<rect x="366" y="310.80" width="2" height="22.10" fill="rgb(234,234,234)"/>
<rect x="368" y="310.80" width="1" height="22.10" fill="rgb(135,135,135)"/>
<rect x="369" y="310.80" width="1" height="22.10" fill="rgb(51,51,51)"/>
<rect x="376" y="310.80" width="1" height="22.10" fill="rgb(135,135,135)"/>
<rect x="377" y="310.80" width="1" height="22.10" fill="rgb(117,117,117)"/>
<rect x="378" y="310.80" width="1" height="22.10" fill="rgb(99,99,99)"/>
<rect x="386" y="310.80" width="2" height="22.10" fill="rgb(173,173,173)"/>
<rect x="388" y="310.80" width="1" height="22.10" fill="rgb(66,66,66)"/>
<rect x="389" y="310.80" width="1" height="22.10" fill="rgb(99,99,99)"/>
<rect x="390" y="310.80" width="3" height="22.10" fill="rgb(193,193,193)"/>
<rect x="394" y="310.80" width="2" height="22.10" fill="rgb(193,193,193)"/>
<rect x="396" y="310.80" width="1" height="22.10" fill="rgb(234,234,234)"/>
<rect x="397" y="310.80" width="1" height="22.10" fill="rgb(173,173,173)"/>
<rect x="398" y="310.80" width="1" height="22.10" fill="rgb(154,154,154)"/>
<rect x="399" y="310.80" width="1" height="22.10" fill="rgb(66,66,66)"/>
<rect x="400" y="310.80" width="1" height="22.10" fill="rgb(193,193,193)"/>
<rect x="401" y="310.80" width="1" height="22.10" fill="rgb(154,154,154)"/>
<rect x="402" y="310.80" width="1" height="22.10" fill="rgb(234,234,234)"/>
<rect x="404" y="310.80" width="1" height="22.10" fill="rgb(82,82,82)"/>
<rect x="405" y="310.80" width="1" height="22.10" fill="rgb(234,234,234)"/>
<rect x="407" y="310.80" width="1" height="22.10" fill="rgb(234,234,234)"/>
<rect x="408" y="310.80" width="1" height="22.10" fill="rgb(154,154,154)"/>
<rect x="409" y="310.80" width="1" height="22.10" fill="rgb(234,234,234)"/>
<rect x="410" y="310.80" width="1" height="22.10" fill="rgb(135,135,135)"/>
<rect x="411" y="310.80" width="1" height="22.10" fill="rgb(213,213,213)"/>
<rect x="414" y="310.80" width="2" height="22.10" fill="rgb(117,117,117)"/>
<rect x="416" y="310.80" width="1" height="22.10" fill="rgb(193,193,193)"/>
<rect x="421" y="310.80" width="1" height="22.10" fill="rgb(37,37,37)"/>
<rect x="422" y="310.80" width="1" height="22.10" fill="rgb(234,234,234)"/>
<rect x="423" y="310.80" width="3" height="22.10" fill="rgb(213,213,213)"/>
<rect x="426" y="310.80" width="1" height="22.10" fill="rgb(234,234,234)"/>
<rect x="427" y="310.80" width="3" height="22.10" fill="rgb(135,135,135)"/>
<rect x="430" y="310.80" width="1" height="22.10" fill="rgb(99,99,99)"/>
<rect x="431" y="310.80" width="1" height="22.10" fill="rgb(51,51,51)"/>
<rect x="432" y="310.80" width="1" height="22.10" fill="rgb(66,66,66)"/>
<rect x="433" y="310.80" width="1" height="22.10" fill="rgb(117,117,117)"/>
<rect x="434" y="310.80" width="1" height="22.10" fill="rgb(135,135,135)"/>
<rect x="435" y="310.80" width="4" height="22.10" fill="rgb(173,173,173)"/>
<rect x="439" y="310.80" width="1" height="22.10" fill="rgb(154,154,154)"/>
<rect x="440" y="310.80" width="1" height="22.10" fill="rgb(82,82,82)"/>
<rect x="441" y="310.80" width="2" height="22.10" fill="rgb(193,193,193)"/>
<rect x="443" y="310.80" width="1" height="22.10" fill="rgb(37,37,37)"/>
<rect x="444" y="310.80" width="1" height="22.10" fill="rgb(66,66,66)"/>
<rect x="445" y="310.80" width="2" height="22.10" fill="rgb(193,193,193)"/>
<rect x="447" y="310.80" width="1" height="22.10" fill="rgb(213,213,213)"/>
<rect x="448" y="310.80" width="1" height="22.10" fill="rgb(234,234,234)"/>
<rect x="449" y="310.80" width="1" height="22.10" fill="rgb(135,135,135)"/>
<rect x="450" y="310.80" width="2" height="22.10" fill="rgb(117,117,117)"/>
<rect x="452" y="310.80" width="1" height="22.10" fill="rgb(213,213,213)"/>
<rect x="454" y="310.80" width="1" height="22.10" fill="rgb(193,193,193)"/>
<rect x="455" y="310.80" width="1" height="22.10" fill="rgb(37,37,37)"/>
<rect x="456" y="310.80" width="7" height="22.10" fill="rgb(12,12,12)"/>
<rect x="463" y="310.80" width="1" height="22.10" fill="rgb(213,213,213)"/>
<defs><linearGradient id="e1g" x1="0" x2="1" y1="0" y2="0"><stop offset="0" stop-color="#ee4c56"/><stop offset="0.1" stop-color="#ee5058"/><stop offset="0.102" stop-color="#ee6680"/><stop offset="0.158" stop-color="#ee6880"/><stop offset="0.16" stop-color="#f08488"/><stop offset="0.257" stop-color="#f08a8c"/><stop offset="0.259" stop-color="#f4c0de"/><stop offset="0.494" stop-color="#f2c6e4"/><stop offset="0.496" stop-color="#dcdaf4"/><stop offset="0.74" stop-color="#d6d4f2"/><stop offset="0.742" stop-color="#c8c4ec"/><stop offset="0.838" stop-color="#c0bce8"/><stop offset="0.84" stop-color="#7874ca"/><stop offset="0.93" stop-color="#6460c0"/><stop offset="0.955" stop-color="#5450b8"/><stop offset="0.957" stop-color="#3c38a8"/><stop offset="1.0" stop-color="#3430a2"/></linearGradient></defs>
<rect x="306.30" y="333.90" width="157.20" height="5.80" fill="url(#e1g)"/>
<path d="M306.60,362.90 L306.60,352.89 L306.61,352.95 L306.65,353.11 L306.71,353.37 L306.80,353.72 L306.91,354.12 L307.04,354.57 L307.20,355.04 L307.38,355.53 L307.59,356.01 L307.83,356.48 L308.08,356.93 L308.37,357.36 L308.67,357.76 L309.00,358.13 L309.36,358.47 L309.74,358.79 L310.14,359.08 L310.57,359.35 L311.03,359.59 L311.51,359.82 L312.01,360.03 L312.54,360.22 L313.09,360.39 L313.66,360.55 L314.27,360.70 L314.89,360.83 L315.54,360.96 L316.22,361.07 L316.92,361.18 L317.64,361.28 L318.39,361.37 L319.16,361.45 L319.96,361.53 L320.78,361.61 L321.62,361.67 L322.50,361.74 L323.39,361.80 L324.31,361.86 L325.26,361.91 L326.22,361.96 L327.22,362.01 L328.24,362.05 L329.28,362.09 L330.35,362.13 L331.44,362.17 L332.55,362.21 L333.69,362.24 L334.86,362.28 L336.05,362.31 L337.26,362.34 L338.50,362.37 L339.77,362.39 L341.05,362.42 L342.37,362.44 L343.70,362.47 L345.06,362.49 L346.45,362.52 L347.86,362.54 L349.30,362.56 L350.75,362.58 L352.24,362.60 L353.75,362.62 L355.28,362.64 L356.84,362.65 L358.42,362.67 L360.03,362.69 L361.66,362.71 L363.31,362.72 L364.99,362.74 L366.70,362.76 L368.43,362.77 L370.18,362.79 L371.96,362.80 L373.76,362.82 L375.59,362.83 L377.44,362.84 L379.32,362.86 L381.22,362.87 L383.15,362.89 L385.10,362.90 L385.78,362.92 L386.77,362.93 L387.75,362.95 L388.73,362.97 L389.72,362.98 L390.70,363.00 L391.68,363.01 L392.67,363.03 L393.65,363.05 L394.64,363.06 L395.62,363.08 L396.60,363.10 L397.59,363.11 L398.57,363.13 L399.55,363.14 L400.54,363.16 L401.52,363.18 L402.51,363.19 L403.49,363.21 L404.47,363.23 L405.46,363.24 L406.44,363.26 L407.42,363.28 L408.41,363.29 L409.39,363.31 L410.38,363.32 L411.36,363.34 L412.34,363.36 L413.33,363.37 L414.31,363.39 L415.29,363.41 L416.28,363.42 L417.26,363.44 L418.25,363.45 L419.23,363.47 L420.21,363.49 L421.20,363.50 L422.18,363.52 L423.16,363.54 L424.15,363.55 L425.13,363.57 L426.12,363.59 L427.10,363.60 L428.08,363.62 L429.07,363.63 L430.05,363.65 L431.04,363.67 L432.02,363.68 L433.00,363.70 L433.99,363.72 L434.97,363.73 L435.95,363.75 L436.94,363.77 L437.92,363.78 L438.91,363.80 L439.89,363.82 L440.87,363.83 L441.86,363.85 L442.84,363.87 L443.82,363.89 L444.81,363.91 L445.79,363.94 L446.78,363.96 L447.76,363.99 L448.74,364.03 L449.73,364.08 L450.71,364.15 L451.69,364.24 L452.68,364.36 L453.66,364.52 L454.65,364.76 L455.63,365.09 L456.61,365.57 L457.60,366.26 L458.58,367.26 L459.56,368.70 L460.55,370.79 L461.53,373.83 L462.52,378.24 L463.50,384.65 L463.50,362.90Z" fill="#bdbec0" stroke="none"/>
<line x1="306.30" y1="362.90" x2="463.50" y2="362.90" stroke="#a9a9a9" stroke-width="0.7"/>
<rect x="359.40" y="361.00" width="41.40" height="3.80" fill="#fff"/>
<text x="384.10" y="364.50" font-size="4.3" text-anchor="middle" textLength="31.40" lengthAdjust="spacingAndGlyphs">Zero cross at 6959</text>
<text x="309.50" y="347.90" font-size="6.5" fill="#d43d54" textLength="69.20" lengthAdjust="spacingAndGlyphs">&#8216;Rux&#8217; (positively correlated)</text>
<text x="375.50" y="383.30" font-size="6.5" fill="#3273b4" textLength="75.80" lengthAdjust="spacingAndGlyphs">&#8216;Ctrl&#8217; (negatively correlated)</text>
<line x1="306.30" y1="239.50" x2="472.60" y2="239.50" stroke="#231f20" stroke-width="1.0"/>
<line x1="472.60" y1="239.50" x2="472.60" y2="386.40" stroke="#231f20" stroke-width="1.0"/>
<line x1="306.30" y1="310.30" x2="472.60" y2="310.30" stroke="#231f20" stroke-width="1.0"/>
<line x1="306.30" y1="333.40" x2="472.60" y2="333.40" stroke="#231f20" stroke-width="1.0"/>
<line x1="306.30" y1="340.20" x2="472.60" y2="340.20" stroke="#6a6a6a" stroke-width="1.0"/>
<line x1="305.85" y1="386.40" x2="473.05" y2="386.40" stroke="#231f20" stroke-width="0.9"/>
<line x1="306.30" y1="239.05" x2="306.30" y2="388.60" stroke="#231f20" stroke-width="0.9"/>
<line x1="303.70" y1="242.70" x2="306.30" y2="242.70" stroke="#231f20" stroke-width="0.8"/>
<text x="301.30" y="245.00" font-size="6.3" text-anchor="end">0.0</text>
<line x1="303.70" y1="251.52" x2="306.30" y2="251.52" stroke="#231f20" stroke-width="0.8"/>
<text x="301.30" y="253.82" font-size="6.3" text-anchor="end">&#8722;0.1</text>
<line x1="303.70" y1="260.34" x2="306.30" y2="260.34" stroke="#231f20" stroke-width="0.8"/>
<text x="301.30" y="262.64" font-size="6.3" text-anchor="end">&#8722;0.2</text>
<line x1="303.70" y1="269.16" x2="306.30" y2="269.16" stroke="#231f20" stroke-width="0.8"/>
<text x="301.30" y="271.46" font-size="6.3" text-anchor="end">&#8722;0.3</text>
<line x1="303.70" y1="277.98" x2="306.30" y2="277.98" stroke="#231f20" stroke-width="0.8"/>
<text x="301.30" y="280.28" font-size="6.3" text-anchor="end">&#8722;0.4</text>
<line x1="303.70" y1="286.80" x2="306.30" y2="286.80" stroke="#231f20" stroke-width="0.8"/>
<text x="301.30" y="289.10" font-size="6.3" text-anchor="end">&#8722;0.5</text>
<line x1="303.70" y1="295.62" x2="306.30" y2="295.62" stroke="#231f20" stroke-width="0.8"/>
<text x="301.30" y="297.92" font-size="6.3" text-anchor="end">&#8722;0.6</text>
<line x1="303.70" y1="304.44" x2="306.30" y2="304.44" stroke="#231f20" stroke-width="0.8"/>
<text x="301.30" y="306.74" font-size="6.3" text-anchor="end">&#8722;0.7</text>
<line x1="303.70" y1="345.50" x2="306.30" y2="345.50" stroke="#231f20" stroke-width="0.8"/>
<text x="302.30" y="347.80" font-size="6.3" text-anchor="end">4</text>
<line x1="303.70" y1="354.20" x2="306.30" y2="354.20" stroke="#231f20" stroke-width="0.8"/>
<text x="302.30" y="356.50" font-size="6.3" text-anchor="end">2</text>
<line x1="303.70" y1="362.90" x2="306.30" y2="362.90" stroke="#231f20" stroke-width="0.8"/>
<text x="302.30" y="365.20" font-size="6.3" text-anchor="end">0</text>
<line x1="303.70" y1="371.60" x2="306.30" y2="371.60" stroke="#231f20" stroke-width="0.8"/>
<text x="302.30" y="373.90" font-size="6.3" text-anchor="end">&#8722;2</text>
<line x1="303.70" y1="380.30" x2="306.30" y2="380.30" stroke="#231f20" stroke-width="0.8"/>
<text x="302.30" y="382.60" font-size="6.3" text-anchor="end">&#8722;4</text>
<line x1="306.30" y1="386.40" x2="306.30" y2="388.60" stroke="#231f20" stroke-width="0.8"/>
<text x="306.30" y="396.60" font-size="6.3" text-anchor="middle">0</text>
<line x1="328.86" y1="386.40" x2="328.86" y2="388.60" stroke="#231f20" stroke-width="0.8"/>
<text x="328.86" y="396.60" font-size="6.3" text-anchor="middle">2,000</text>
<line x1="351.42" y1="386.40" x2="351.42" y2="388.60" stroke="#231f20" stroke-width="0.8"/>
<text x="351.42" y="396.60" font-size="6.3" text-anchor="middle">4,000</text>
<line x1="373.98" y1="386.40" x2="373.98" y2="388.60" stroke="#231f20" stroke-width="0.8"/>
<text x="373.98" y="396.60" font-size="6.3" text-anchor="middle">6,000</text>
<line x1="396.54" y1="386.40" x2="396.54" y2="388.60" stroke="#231f20" stroke-width="0.8"/>
<text x="396.54" y="396.60" font-size="6.3" text-anchor="middle">8,000</text>
<line x1="419.10" y1="386.40" x2="419.10" y2="388.60" stroke="#231f20" stroke-width="0.8"/>
<text x="419.10" y="396.60" font-size="6.3" text-anchor="middle">10,000</text>
<line x1="441.66" y1="386.40" x2="441.66" y2="388.60" stroke="#231f20" stroke-width="0.8"/>
<text x="441.66" y="396.60" font-size="6.3" text-anchor="middle">12,000</text>
<line x1="464.22" y1="386.40" x2="464.22" y2="388.60" stroke="#231f20" stroke-width="0.8"/>
<text x="464.22" y="396.60" font-size="6.3" text-anchor="middle">14,000</text>
<text x="394.75" y="405.00" font-size="7.6" text-anchor="middle" fill="#3a3a3a" font-weight="bold" textLength="57.40" lengthAdjust="spacingAndGlyphs">Rank in ordered dataset</text>
<text x="285.70" y="302.50" font-size="7.6" fill="#3a3a3a" font-weight="bold" textLength="54.30" lengthAdjust="spacingAndGlyphs" transform="rotate(-90 285.70 302.50)">Enrichment score (ES)</text>
<text x="289.50" y="408.20" font-size="7.2" fill="#3a3a3a" font-weight="bold" textLength="78.30" lengthAdjust="spacingAndGlyphs" transform="rotate(-90 289.50 408.20)">Ranked list metric (signal2noise)</text>
<rect x="306.20" y="409.30" width="166.50" height="8.20" fill="none" stroke="#231f20" stroke-width="0.9"/>
<line x1="308.60" y1="413.40" x2="314.40" y2="413.40" stroke="#1fa83c" stroke-width="1.5"/>
<text x="315.70" y="415.60" font-size="6.6" textLength="47.00" lengthAdjust="spacingAndGlyphs">Enrichment profile</text>
<line x1="376.60" y1="413.40" x2="381.50" y2="413.40" stroke="#444" stroke-width="0.6"/>
<text x="382.80" y="415.60" font-size="6.6" textLength="10.40" lengthAdjust="spacingAndGlyphs">Hits</text>
<line x1="402.40" y1="413.40" x2="408.50" y2="413.40" stroke="#888" stroke-width="0.6"/>
<text x="409.70" y="415.60" font-size="6.6" textLength="57.30" lengthAdjust="spacingAndGlyphs">Ranking metric scores</text>
<text x="311.80" y="283.60" font-size="6.4" fill="#333" textLength="33.50" lengthAdjust="spacingAndGlyphs">NES: &#8722;1.99</text>
<text x="311.80" y="292.50" font-size="6.4" fill="#333" textLength="39.80" lengthAdjust="spacingAndGlyphs"><tspan font-style="italic">p-value:</tspan> 0.000</text>
<text x="311.80" y="301.30" font-size="6.4" fill="#333" textLength="46.60" lengthAdjust="spacingAndGlyphs">FDR <tspan font-style="italic">q-val:</tspan> 0.000</text>
<text x="387.35" y="433.40" font-size="8.1" text-anchor="middle" textLength="69.80" lengthAdjust="spacingAndGlyphs">IL2/STAT5 signaling</text>
<line x1="305.40" y1="448.50" x2="470.10" y2="448.50" stroke="#bdbdbd" stroke-width="0.9"/>
<polyline points="305.50,449.00 306.20,445.50 307.80,444.30 309.00,443.80 310.00,442.90 311.20,444.30 312.50,442.60 313.80,443.80 315.20,442.90 316.40,443.30 319.00,445.00 324.20,447.20 328.60,448.10 332.00,449.50 336.30,452.40 341.50,455.40 348.50,458.80 355.40,462.00 362.30,465.80 372.70,471.50 383.10,477.50 385.00,478.90 393.70,483.60 402.30,488.30 411.00,492.80 419.60,497.40 426.50,500.90 431.70,503.50 438.70,506.10 443.80,505.60 449.00,506.60 451.60,504.90 453.90,502.60 455.10,502.60 456.30,498.30 457.70,491.40 459.10,483.60 460.30,480.10 460.60,467.20 461.50,456.80 462.00,448.10" fill="none" stroke="#1fa83c" stroke-width="1.75" stroke-linejoin="round"/>
<rect x="306" y="510.30" width="2" height="22.60" fill="rgb(193,193,193)"/>
<rect x="308" y="510.30" width="1" height="22.60" fill="rgb(173,173,173)"/>
<rect x="309" y="510.30" width="1" height="22.60" fill="rgb(154,154,154)"/>
<rect x="312" y="510.30" width="1" height="22.60" fill="rgb(51,51,51)"/>
<rect x="313" y="510.30" width="1" height="22.60" fill="rgb(234,234,234)"/>
<rect x="314" y="510.30" width="1" height="22.60" fill="rgb(135,135,135)"/>
<rect x="315" y="510.30" width="1" height="22.60" fill="rgb(154,154,154)"/>
<rect x="317" y="510.30" width="1" height="22.60" fill="rgb(234,234,234)"/>
<rect x="318" y="510.30" width="2" height="22.60" fill="rgb(154,154,154)"/>
<rect x="320" y="510.30" width="1" height="22.60" fill="rgb(234,234,234)"/>
<rect x="321" y="510.30" width="1" height="22.60" fill="rgb(154,154,154)"/>
<rect x="322" y="510.30" width="1" height="22.60" fill="rgb(135,135,135)"/>
<rect x="323" y="510.30" width="2" height="22.60" fill="rgb(117,117,117)"/>
<rect x="325" y="510.30" width="1" height="22.60" fill="rgb(135,135,135)"/>
<rect x="326" y="510.30" width="1" height="22.60" fill="rgb(82,82,82)"/>
<rect x="327" y="510.30" width="1" height="22.60" fill="rgb(37,37,37)"/>
<rect x="328" y="510.30" width="1" height="22.60" fill="rgb(193,193,193)"/>
<rect x="330" y="510.30" width="1" height="22.60" fill="rgb(154,154,154)"/>
<rect x="331" y="510.30" width="1" height="22.60" fill="rgb(135,135,135)"/>
<rect x="332" y="510.30" width="2" height="22.60" fill="rgb(234,234,234)"/>
<rect x="334" y="510.30" width="1" height="22.60" fill="rgb(193,193,193)"/>
<rect x="335" y="510.30" width="1" height="22.60" fill="rgb(173,173,173)"/>
<rect x="340" y="510.30" width="1" height="22.60" fill="rgb(135,135,135)"/>
<rect x="341" y="510.30" width="1" height="22.60" fill="rgb(234,234,234)"/>
<rect x="345" y="510.30" width="2" height="22.60" fill="rgb(173,173,173)"/>
<rect x="347" y="510.30" width="1" height="22.60" fill="rgb(135,135,135)"/>
<rect x="348" y="510.30" width="1" height="22.60" fill="rgb(37,37,37)"/>
<rect x="349" y="510.30" width="3" height="22.60" fill="rgb(193,193,193)"/>
<rect x="352" y="510.30" width="1" height="22.60" fill="rgb(82,82,82)"/>
<rect x="353" y="510.30" width="1" height="22.60" fill="rgb(234,234,234)"/>
<rect x="354" y="510.30" width="2" height="22.60" fill="rgb(173,173,173)"/>
<rect x="356" y="510.30" width="1" height="22.60" fill="rgb(213,213,213)"/>
<rect x="361" y="510.30" width="2" height="22.60" fill="rgb(117,117,117)"/>
<rect x="363" y="510.30" width="1" height="22.60" fill="rgb(99,99,99)"/>
<rect x="364" y="510.30" width="1" height="22.60" fill="rgb(37,37,37)"/>
<rect x="365" y="510.30" width="1" height="22.60" fill="rgb(193,193,193)"/>
<rect x="366" y="510.30" width="1" height="22.60" fill="rgb(213,213,213)"/>
<rect x="367" y="510.30" width="1" height="22.60" fill="rgb(154,154,154)"/>
<rect x="369" y="510.30" width="3" height="22.60" fill="rgb(173,173,173)"/>
<rect x="372" y="510.30" width="1" height="22.60" fill="rgb(154,154,154)"/>
<rect x="373" y="510.30" width="1" height="22.60" fill="rgb(135,135,135)"/>
<rect x="374" y="510.30" width="1" height="22.60" fill="rgb(117,117,117)"/>
<rect x="375" y="510.30" width="1" height="22.60" fill="rgb(99,99,99)"/>
<rect x="381" y="510.30" width="1" height="22.60" fill="rgb(117,117,117)"/>
<rect x="382" y="510.30" width="3" height="22.60" fill="rgb(82,82,82)"/>
<rect x="385" y="510.30" width="1" height="22.60" fill="rgb(154,154,154)"/>
<rect x="386" y="510.30" width="1" height="22.60" fill="rgb(173,173,173)"/>
<rect x="389" y="510.30" width="1" height="22.60" fill="rgb(173,173,173)"/>
<rect x="390" y="510.30" width="1" height="22.60" fill="rgb(135,135,135)"/>
<rect x="391" y="510.30" width="1" height="22.60" fill="rgb(12,12,12)"/>
<rect x="392" y="510.30" width="1" height="22.60" fill="rgb(213,213,213)"/>
<rect x="393" y="510.30" width="1" height="22.60" fill="rgb(234,234,234)"/>
<rect x="394" y="510.30" width="1" height="22.60" fill="rgb(193,193,193)"/>
<rect x="395" y="510.30" width="1" height="22.60" fill="rgb(66,66,66)"/>
<rect x="396" y="510.30" width="1" height="22.60" fill="rgb(99,99,99)"/>
<rect x="401" y="510.30" width="1" height="22.60" fill="rgb(82,82,82)"/>
<rect x="402" y="510.30" width="1" height="22.60" fill="rgb(193,193,193)"/>
<rect x="403" y="510.30" width="1" height="22.60" fill="rgb(154,154,154)"/>
<rect x="404" y="510.30" width="1" height="22.60" fill="rgb(117,117,117)"/>
<rect x="405" y="510.30" width="2" height="22.60" fill="rgb(234,234,234)"/>
<rect x="407" y="510.30" width="1" height="22.60" fill="rgb(173,173,173)"/>
<rect x="408" y="510.30" width="1" height="22.60" fill="rgb(154,154,154)"/>
<rect x="410" y="510.30" width="1" height="22.60" fill="rgb(213,213,213)"/>
<rect x="411" y="510.30" width="2" height="22.60" fill="rgb(135,135,135)"/>
<rect x="413" y="510.30" width="1" height="22.60" fill="rgb(117,117,117)"/>
<rect x="414" y="510.30" width="1" height="22.60" fill="rgb(12,12,12)"/>
<rect x="415" y="510.30" width="4" height="22.60" fill="rgb(193,193,193)"/>
<rect x="419" y="510.30" width="2" height="22.60" fill="rgb(154,154,154)"/>
<rect x="421" y="510.30" width="1" height="22.60" fill="rgb(213,213,213)"/>
<rect x="422" y="510.30" width="1" height="22.60" fill="rgb(82,82,82)"/>
<rect x="423" y="510.30" width="1" height="22.60" fill="rgb(117,117,117)"/>
<rect x="424" y="510.30" width="3" height="22.60" fill="rgb(193,193,193)"/>
<rect x="427" y="510.30" width="1" height="22.60" fill="rgb(173,173,173)"/>
<rect x="428" y="510.30" width="1" height="22.60" fill="rgb(193,193,193)"/>
<rect x="429" y="510.30" width="1" height="22.60" fill="rgb(173,173,173)"/>
<rect x="430" y="510.30" width="1" height="22.60" fill="rgb(213,213,213)"/>
<rect x="431" y="510.30" width="1" height="22.60" fill="rgb(234,234,234)"/>
<rect x="432" y="510.30" width="1" height="22.60" fill="rgb(66,66,66)"/>
<rect x="433" y="510.30" width="1" height="22.60" fill="rgb(37,37,37)"/>
<rect x="434" y="510.30" width="2" height="22.60" fill="rgb(193,193,193)"/>
<rect x="436" y="510.30" width="3" height="22.60" fill="rgb(173,173,173)"/>
<rect x="439" y="510.30" width="1" height="22.60" fill="rgb(135,135,135)"/>
<rect x="440" y="510.30" width="2" height="22.60" fill="rgb(51,51,51)"/>
<rect x="442" y="510.30" width="1" height="22.60" fill="rgb(117,117,117)"/>
<rect x="443" y="510.30" width="1" height="22.60" fill="rgb(193,193,193)"/>
<rect x="444" y="510.30" width="1" height="22.60" fill="rgb(213,213,213)"/>
<rect x="445" y="510.30" width="4" height="22.60" fill="rgb(117,117,117)"/>
<rect x="449" y="510.30" width="2" height="22.60" fill="rgb(99,99,99)"/>
<rect x="451" y="510.30" width="1" height="22.60" fill="rgb(82,82,82)"/>
<rect x="452" y="510.30" width="1" height="22.60" fill="rgb(213,213,213)"/>
<rect x="453" y="510.30" width="1" height="22.60" fill="rgb(154,154,154)"/>
<rect x="454" y="510.30" width="1" height="22.60" fill="rgb(51,51,51)"/>
<rect x="455" y="510.30" width="1" height="22.60" fill="rgb(37,37,37)"/>
<rect x="456" y="510.30" width="1" height="22.60" fill="rgb(99,99,99)"/>
<rect x="457" y="510.30" width="1" height="22.60" fill="rgb(37,37,37)"/>
<rect x="458" y="510.30" width="3" height="22.60" fill="rgb(24,24,24)"/>
<rect x="461" y="510.30" width="1" height="22.60" fill="rgb(135,135,135)"/>
<defs><linearGradient id="e2g" x1="0" x2="1" y1="0" y2="0"><stop offset="0" stop-color="#ee4c56"/><stop offset="0.1" stop-color="#ee5058"/><stop offset="0.102" stop-color="#ee6680"/><stop offset="0.158" stop-color="#ee6880"/><stop offset="0.16" stop-color="#f08488"/><stop offset="0.257" stop-color="#f08a8c"/><stop offset="0.259" stop-color="#f4c0de"/><stop offset="0.494" stop-color="#f2c6e4"/><stop offset="0.496" stop-color="#dcdaf4"/><stop offset="0.74" stop-color="#d6d4f2"/><stop offset="0.742" stop-color="#c8c4ec"/><stop offset="0.838" stop-color="#c0bce8"/><stop offset="0.84" stop-color="#7874ca"/><stop offset="0.93" stop-color="#6460c0"/><stop offset="0.955" stop-color="#5450b8"/><stop offset="0.957" stop-color="#3c38a8"/><stop offset="1.0" stop-color="#3430a2"/></linearGradient></defs>
<rect x="305.40" y="533.90" width="157.10" height="5.50" fill="url(#e2g)"/>
<path d="M305.70,562.96 L305.70,552.95 L305.71,553.01 L305.75,553.17 L305.81,553.43 L305.90,553.78 L306.01,554.18 L306.14,554.63 L306.30,555.10 L306.48,555.59 L306.69,556.07 L306.93,556.54 L307.18,556.99 L307.47,557.42 L307.77,557.82 L308.10,558.19 L308.46,558.53 L308.84,558.85 L309.24,559.14 L309.67,559.41 L310.13,559.65 L310.61,559.88 L311.11,560.09 L311.64,560.28 L312.19,560.45 L312.76,560.61 L313.37,560.76 L313.99,560.89 L314.64,561.02 L315.32,561.13 L316.02,561.24 L316.74,561.34 L317.49,561.43 L318.26,561.51 L319.06,561.59 L319.88,561.67 L320.72,561.73 L321.60,561.80 L322.49,561.86 L323.41,561.92 L324.36,561.97 L325.32,562.02 L326.32,562.07 L327.34,562.11 L328.38,562.15 L329.45,562.19 L330.54,562.23 L331.65,562.27 L332.79,562.30 L333.96,562.34 L335.15,562.37 L336.36,562.40 L337.60,562.43 L338.87,562.45 L340.15,562.48 L341.47,562.50 L342.80,562.53 L344.16,562.55 L345.55,562.58 L346.96,562.60 L348.40,562.62 L349.85,562.64 L351.34,562.66 L352.85,562.68 L354.38,562.70 L355.94,562.71 L357.52,562.73 L359.13,562.75 L360.76,562.77 L362.41,562.78 L364.09,562.80 L365.80,562.82 L367.53,562.83 L369.28,562.85 L371.06,562.86 L372.86,562.88 L374.69,562.89 L376.54,562.90 L378.42,562.92 L380.32,562.93 L382.25,562.95 L384.20,562.96 L384.88,562.98 L385.86,562.99 L386.85,563.01 L387.83,563.03 L388.81,563.04 L389.79,563.06 L390.78,563.07 L391.76,563.09 L392.74,563.11 L393.72,563.12 L394.71,563.14 L395.69,563.16 L396.67,563.17 L397.65,563.19 L398.64,563.20 L399.62,563.22 L400.60,563.24 L401.58,563.25 L402.57,563.27 L403.55,563.29 L404.53,563.30 L405.51,563.32 L406.50,563.34 L407.48,563.35 L408.46,563.37 L409.44,563.38 L410.43,563.40 L411.41,563.42 L412.39,563.43 L413.37,563.45 L414.36,563.47 L415.34,563.48 L416.32,563.50 L417.30,563.51 L418.29,563.53 L419.27,563.55 L420.25,563.56 L421.23,563.58 L422.22,563.60 L423.20,563.61 L424.18,563.63 L425.16,563.65 L426.15,563.66 L427.13,563.68 L428.11,563.69 L429.09,563.71 L430.08,563.73 L431.06,563.74 L432.04,563.76 L433.02,563.78 L434.01,563.79 L434.99,563.81 L435.97,563.83 L436.95,563.84 L437.94,563.86 L438.92,563.88 L439.90,563.89 L440.88,563.91 L441.87,563.93 L442.85,563.95 L443.83,563.97 L444.81,564.00 L445.80,564.02 L446.78,564.05 L447.76,564.09 L448.74,564.14 L449.73,564.21 L450.71,564.30 L451.69,564.42 L452.67,564.58 L453.66,564.82 L454.64,565.15 L455.62,565.63 L456.60,566.32 L457.59,567.32 L458.57,568.76 L459.55,570.85 L460.53,573.89 L461.52,578.30 L462.50,584.71 L462.50,562.96Z" fill="#bdbec0" stroke="none"/>
<line x1="305.40" y1="562.96" x2="462.50" y2="562.96" stroke="#a9a9a9" stroke-width="0.7"/>
<rect x="358.50" y="561.06" width="41.40" height="3.80" fill="#fff"/>
<text x="383.20" y="564.56" font-size="4.3" text-anchor="middle" textLength="31.40" lengthAdjust="spacingAndGlyphs">Zero cross at 6959</text>
<text x="307.70" y="546.96" font-size="6.5" fill="#d43d54" textLength="68.80" lengthAdjust="spacingAndGlyphs">&#8216;Rux&#8217; (positively correlated)</text>
<text x="375.40" y="584.10" font-size="6.5" fill="#3273b4" textLength="75.60" lengthAdjust="spacingAndGlyphs">&#8216;Ctrl&#8217; (negatively correlated)</text>
<line x1="305.40" y1="439.40" x2="470.10" y2="439.40" stroke="#231f20" stroke-width="1.0"/>
<line x1="470.10" y1="439.40" x2="470.10" y2="586.50" stroke="#231f20" stroke-width="1.0"/>
<line x1="305.40" y1="509.80" x2="470.10" y2="509.80" stroke="#231f20" stroke-width="1.0"/>
<line x1="305.40" y1="533.40" x2="470.10" y2="533.40" stroke="#231f20" stroke-width="1.0"/>
<line x1="305.40" y1="539.90" x2="470.10" y2="539.90" stroke="#6a6a6a" stroke-width="1.0"/>
<line x1="304.95" y1="586.50" x2="470.55" y2="586.50" stroke="#231f20" stroke-width="0.9"/>
<line x1="305.40" y1="438.95" x2="305.40" y2="588.70" stroke="#231f20" stroke-width="0.9"/>
<line x1="302.80" y1="448.50" x2="305.40" y2="448.50" stroke="#231f20" stroke-width="0.8"/>
<text x="300.40" y="450.80" font-size="6.3" text-anchor="end">0.0</text>
<line x1="302.80" y1="457.57" x2="305.40" y2="457.57" stroke="#231f20" stroke-width="0.8"/>
<text x="300.40" y="459.87" font-size="6.3" text-anchor="end">&#8722;0.1</text>
<line x1="302.80" y1="466.64" x2="305.40" y2="466.64" stroke="#231f20" stroke-width="0.8"/>
<text x="300.40" y="468.94" font-size="6.3" text-anchor="end">&#8722;0.2</text>
<line x1="302.80" y1="475.71" x2="305.40" y2="475.71" stroke="#231f20" stroke-width="0.8"/>
<text x="300.40" y="478.01" font-size="6.3" text-anchor="end">&#8722;0.3</text>
<line x1="302.80" y1="484.78" x2="305.40" y2="484.78" stroke="#231f20" stroke-width="0.8"/>
<text x="300.40" y="487.08" font-size="6.3" text-anchor="end">&#8722;0.4</text>
<line x1="302.80" y1="493.85" x2="305.40" y2="493.85" stroke="#231f20" stroke-width="0.8"/>
<text x="300.40" y="496.15" font-size="6.3" text-anchor="end">&#8722;0.5</text>
<line x1="302.80" y1="502.92" x2="305.40" y2="502.92" stroke="#231f20" stroke-width="0.8"/>
<text x="300.40" y="505.22" font-size="6.3" text-anchor="end">&#8722;0.6</text>
<line x1="302.80" y1="545.56" x2="305.40" y2="545.56" stroke="#231f20" stroke-width="0.8"/>
<text x="301.40" y="547.86" font-size="6.3" text-anchor="end">4</text>
<line x1="302.80" y1="554.26" x2="305.40" y2="554.26" stroke="#231f20" stroke-width="0.8"/>
<text x="301.40" y="556.56" font-size="6.3" text-anchor="end">2</text>
<line x1="302.80" y1="562.96" x2="305.40" y2="562.96" stroke="#231f20" stroke-width="0.8"/>
<text x="301.40" y="565.26" font-size="6.3" text-anchor="end">0</text>
<line x1="302.80" y1="571.66" x2="305.40" y2="571.66" stroke="#231f20" stroke-width="0.8"/>
<text x="301.40" y="573.96" font-size="6.3" text-anchor="end">&#8722;2</text>
<line x1="302.80" y1="580.36" x2="305.40" y2="580.36" stroke="#231f20" stroke-width="0.8"/>
<text x="301.40" y="582.66" font-size="6.3" text-anchor="end">&#8722;4</text>
<line x1="305.40" y1="586.50" x2="305.40" y2="588.70" stroke="#231f20" stroke-width="0.8"/>
<text x="305.40" y="596.70" font-size="6.3" text-anchor="middle">0</text>
<line x1="327.96" y1="586.50" x2="327.96" y2="588.70" stroke="#231f20" stroke-width="0.8"/>
<text x="327.96" y="596.70" font-size="6.3" text-anchor="middle">2,000</text>
<line x1="350.52" y1="586.50" x2="350.52" y2="588.70" stroke="#231f20" stroke-width="0.8"/>
<text x="350.52" y="596.70" font-size="6.3" text-anchor="middle">4,000</text>
<line x1="373.08" y1="586.50" x2="373.08" y2="588.70" stroke="#231f20" stroke-width="0.8"/>
<text x="373.08" y="596.70" font-size="6.3" text-anchor="middle">6,000</text>
<line x1="395.64" y1="586.50" x2="395.64" y2="588.70" stroke="#231f20" stroke-width="0.8"/>
<text x="395.64" y="596.70" font-size="6.3" text-anchor="middle">8,000</text>
<line x1="418.20" y1="586.50" x2="418.20" y2="588.70" stroke="#231f20" stroke-width="0.8"/>
<text x="418.20" y="596.70" font-size="6.3" text-anchor="middle">10,000</text>
<line x1="440.76" y1="586.50" x2="440.76" y2="588.70" stroke="#231f20" stroke-width="0.8"/>
<text x="440.76" y="596.70" font-size="6.3" text-anchor="middle">12,000</text>
<line x1="463.32" y1="586.50" x2="463.32" y2="588.70" stroke="#231f20" stroke-width="0.8"/>
<text x="463.32" y="596.70" font-size="6.3" text-anchor="middle">14,000</text>
<text x="393.05" y="605.10" font-size="7.6" text-anchor="middle" fill="#3a3a3a" font-weight="bold" textLength="57.40" lengthAdjust="spacingAndGlyphs">Rank in ordered dataset</text>
<text x="286.00" y="505.30" font-size="7.6" fill="#3a3a3a" font-weight="bold" textLength="54.30" lengthAdjust="spacingAndGlyphs" transform="rotate(-90 286.00 505.30)">Enrichment score (ES)</text>
<text x="290.60" y="609.00" font-size="7.2" fill="#3a3a3a" font-weight="bold" textLength="78.30" lengthAdjust="spacingAndGlyphs" transform="rotate(-90 290.60 609.00)">Ranked list metric (signal2noise)</text>
<rect x="306.20" y="609.20" width="166.50" height="8.20" fill="none" stroke="#231f20" stroke-width="0.9"/>
<line x1="308.60" y1="613.30" x2="314.40" y2="613.30" stroke="#1fa83c" stroke-width="1.5"/>
<text x="315.70" y="615.50" font-size="6.6" textLength="47.00" lengthAdjust="spacingAndGlyphs">Enrichment profile</text>
<line x1="376.60" y1="613.30" x2="381.50" y2="613.30" stroke="#444" stroke-width="0.6"/>
<text x="382.80" y="615.50" font-size="6.6" textLength="10.40" lengthAdjust="spacingAndGlyphs">Hits</text>
<line x1="402.40" y1="613.30" x2="408.50" y2="613.30" stroke="#888" stroke-width="0.6"/>
<text x="409.70" y="615.50" font-size="6.6" textLength="57.30" lengthAdjust="spacingAndGlyphs">Ranking metric scores</text>
<text x="311.80" y="482.40" font-size="6.4" fill="#333" textLength="33.50" lengthAdjust="spacingAndGlyphs">NES: &#8722;1.73</text>
<text x="311.80" y="491.30" font-size="6.4" fill="#333" textLength="39.80" lengthAdjust="spacingAndGlyphs"><tspan font-style="italic">p-value:</tspan> 0.000</text>
<text x="311.80" y="500.10" font-size="6.4" fill="#333" textLength="46.60" lengthAdjust="spacingAndGlyphs">FDR <tspan font-style="italic">q-val:</tspan> 0.003</text>
<text x="385.30" y="636.70" font-size="8.1" text-anchor="middle" textLength="87.30" lengthAdjust="spacingAndGlyphs">IL6/JAK/STAT3 signaling</text>
<line x1="304.20" y1="651.90" x2="469.80" y2="651.90" stroke="#bdbdbd" stroke-width="0.9"/>
<polyline points="304.50,652.20 305.50,652.70 306.60,653.90 307.30,644.90 308.30,644.60 309.50,645.80 310.70,644.90 312.10,646.70 313.50,645.80 315.20,646.30 317.30,646.30 319.40,648.00 321.60,648.40 326.00,649.80 330.30,652.20 336.30,655.30 345.00,660.50 355.40,665.30 365.80,671.20 376.20,676.90 385.00,681.30 393.70,686.10 402.30,690.80 411.00,695.50 419.60,700.00 428.30,704.60 430.30,705.20 432.60,705.80 436.10,707.60 437.80,706.40 440.40,706.90 443.80,708.10 447.00,708.10 448.20,709.00 449.90,705.50 451.60,704.60 452.80,702.00 454.20,695.10 455.60,694.20 456.30,682.10 457.30,675.20 458.60,675.20 459.10,670.90 459.80,662.20 460.30,652.20" fill="none" stroke="#1fa83c" stroke-width="1.75" stroke-linejoin="round"/>
<rect x="305" y="712.80" width="1" height="22.40" fill="rgb(234,234,234)"/>
<rect x="306" y="712.80" width="1" height="22.40" fill="rgb(66,66,66)"/>
<rect x="307" y="712.80" width="1" height="22.40" fill="rgb(99,99,99)"/>
<rect x="310" y="712.80" width="1" height="22.40" fill="rgb(173,173,173)"/>
<rect x="311" y="712.80" width="1" height="22.40" fill="rgb(193,193,193)"/>
<rect x="313" y="712.80" width="1" height="22.40" fill="rgb(213,213,213)"/>
<rect x="314" y="712.80" width="1" height="22.40" fill="rgb(193,193,193)"/>
<rect x="315" y="712.80" width="1" height="22.40" fill="rgb(173,173,173)"/>
<rect x="316" y="712.80" width="1" height="22.40" fill="rgb(193,193,193)"/>
<rect x="319" y="712.80" width="3" height="22.40" fill="rgb(193,193,193)"/>
<rect x="322" y="712.80" width="1" height="22.40" fill="rgb(135,135,135)"/>
<rect x="324" y="712.80" width="2" height="22.40" fill="rgb(193,193,193)"/>
<rect x="330" y="712.80" width="1" height="22.40" fill="rgb(154,154,154)"/>
<rect x="331" y="712.80" width="1" height="22.40" fill="rgb(213,213,213)"/>
<rect x="335" y="712.80" width="1" height="22.40" fill="rgb(135,135,135)"/>
<rect x="336" y="712.80" width="1" height="22.40" fill="rgb(234,234,234)"/>
<rect x="338" y="712.80" width="1" height="22.40" fill="rgb(135,135,135)"/>
<rect x="344" y="712.80" width="1" height="22.40" fill="rgb(193,193,193)"/>
<rect x="345" y="712.80" width="1" height="22.40" fill="rgb(234,234,234)"/>
<rect x="347" y="712.80" width="1" height="22.40" fill="rgb(213,213,213)"/>
<rect x="348" y="712.80" width="1" height="22.40" fill="rgb(173,173,173)"/>
<rect x="350" y="712.80" width="1" height="22.40" fill="rgb(173,173,173)"/>
<rect x="351" y="712.80" width="1" height="22.40" fill="rgb(193,193,193)"/>
<rect x="354" y="712.80" width="3" height="22.40" fill="rgb(173,173,173)"/>
<rect x="357" y="712.80" width="1" height="22.40" fill="rgb(234,234,234)"/>
<rect x="358" y="712.80" width="1" height="22.40" fill="rgb(154,154,154)"/>
<rect x="360" y="712.80" width="1" height="22.40" fill="rgb(193,193,193)"/>
<rect x="361" y="712.80" width="1" height="22.40" fill="rgb(173,173,173)"/>
<rect x="366" y="712.80" width="1" height="22.40" fill="rgb(193,193,193)"/>
<rect x="367" y="712.80" width="1" height="22.40" fill="rgb(117,117,117)"/>
<rect x="372" y="712.80" width="1" height="22.40" fill="rgb(213,213,213)"/>
<rect x="373" y="712.80" width="1" height="22.40" fill="rgb(173,173,173)"/>
<rect x="374" y="712.80" width="1" height="22.40" fill="rgb(193,193,193)"/>
<rect x="375" y="712.80" width="1" height="22.40" fill="rgb(234,234,234)"/>
<rect x="376" y="712.80" width="1" height="22.40" fill="rgb(154,154,154)"/>
<rect x="377" y="712.80" width="1" height="22.40" fill="rgb(213,213,213)"/>
<rect x="378" y="712.80" width="1" height="22.40" fill="rgb(193,193,193)"/>
<rect x="379" y="712.80" width="1" height="22.40" fill="rgb(154,154,154)"/>
<rect x="385" y="712.80" width="1" height="22.40" fill="rgb(193,193,193)"/>
<rect x="386" y="712.80" width="1" height="22.40" fill="rgb(173,173,173)"/>
<rect x="387" y="712.80" width="1" height="22.40" fill="rgb(193,193,193)"/>
<rect x="389" y="712.80" width="2" height="22.40" fill="rgb(193,193,193)"/>
<rect x="400" y="712.80" width="1" height="22.40" fill="rgb(51,51,51)"/>
<rect x="401" y="712.80" width="1" height="22.40" fill="rgb(193,193,193)"/>
<rect x="402" y="712.80" width="1" height="22.40" fill="rgb(173,173,173)"/>
<rect x="403" y="712.80" width="1" height="22.40" fill="rgb(135,135,135)"/>
<rect x="407" y="712.80" width="1" height="22.40" fill="rgb(154,154,154)"/>
<rect x="408" y="712.80" width="2" height="22.40" fill="rgb(234,234,234)"/>
<rect x="410" y="712.80" width="1" height="22.40" fill="rgb(117,117,117)"/>
<rect x="419" y="712.80" width="1" height="22.40" fill="rgb(173,173,173)"/>
<rect x="420" y="712.80" width="1" height="22.40" fill="rgb(193,193,193)"/>
<rect x="428" y="712.80" width="1" height="22.40" fill="rgb(193,193,193)"/>
<rect x="429" y="712.80" width="1" height="22.40" fill="rgb(135,135,135)"/>
<rect x="430" y="712.80" width="1" height="22.40" fill="rgb(66,66,66)"/>
<rect x="431" y="712.80" width="3" height="22.40" fill="rgb(193,193,193)"/>
<rect x="434" y="712.80" width="1" height="22.40" fill="rgb(234,234,234)"/>
<rect x="435" y="712.80" width="1" height="22.40" fill="rgb(173,173,173)"/>
<rect x="436" y="712.80" width="1" height="22.40" fill="rgb(135,135,135)"/>
<rect x="437" y="712.80" width="2" height="22.40" fill="rgb(99,99,99)"/>
<rect x="439" y="712.80" width="1" height="22.40" fill="rgb(213,213,213)"/>
<rect x="440" y="712.80" width="2" height="22.40" fill="rgb(234,234,234)"/>
<rect x="442" y="712.80" width="1" height="22.40" fill="rgb(154,154,154)"/>
<rect x="443" y="712.80" width="1" height="22.40" fill="rgb(99,99,99)"/>
<rect x="444" y="712.80" width="1" height="22.40" fill="rgb(135,135,135)"/>
<rect x="445" y="712.80" width="1" height="22.40" fill="rgb(213,213,213)"/>
<rect x="446" y="712.80" width="4" height="22.40" fill="rgb(173,173,173)"/>
<rect x="450" y="712.80" width="1" height="22.40" fill="rgb(82,82,82)"/>
<rect x="451" y="712.80" width="1" height="22.40" fill="rgb(154,154,154)"/>
<rect x="452" y="712.80" width="2" height="22.40" fill="rgb(193,193,193)"/>
<rect x="454" y="712.80" width="1" height="22.40" fill="rgb(154,154,154)"/>
<rect x="455" y="712.80" width="1" height="22.40" fill="rgb(82,82,82)"/>
<rect x="456" y="712.80" width="1" height="22.40" fill="rgb(154,154,154)"/>
<rect x="457" y="712.80" width="1" height="22.40" fill="rgb(135,135,135)"/>
<rect x="458" y="712.80" width="1" height="22.40" fill="rgb(82,82,82)"/>
<rect x="459" y="712.80" width="1" height="22.40" fill="rgb(154,154,154)"/>
<rect x="460" y="712.80" width="1" height="22.40" fill="rgb(173,173,173)"/>
<defs><linearGradient id="e3g" x1="0" x2="1" y1="0" y2="0"><stop offset="0" stop-color="#ee4c56"/><stop offset="0.1" stop-color="#ee5058"/><stop offset="0.102" stop-color="#ee6680"/><stop offset="0.158" stop-color="#ee6880"/><stop offset="0.16" stop-color="#f08488"/><stop offset="0.257" stop-color="#f08a8c"/><stop offset="0.259" stop-color="#f4c0de"/><stop offset="0.494" stop-color="#f2c6e4"/><stop offset="0.496" stop-color="#dcdaf4"/><stop offset="0.74" stop-color="#d6d4f2"/><stop offset="0.742" stop-color="#c8c4ec"/><stop offset="0.838" stop-color="#c0bce8"/><stop offset="0.84" stop-color="#7874ca"/><stop offset="0.93" stop-color="#6460c0"/><stop offset="0.955" stop-color="#5450b8"/><stop offset="0.957" stop-color="#3c38a8"/><stop offset="1.0" stop-color="#3430a2"/></linearGradient></defs>
<rect x="304.20" y="736.20" width="156.80" height="5.30" fill="url(#e3g)"/>
<path d="M304.50,765.08 L304.50,755.07 L304.51,755.13 L304.55,755.29 L304.61,755.55 L304.70,755.90 L304.81,756.30 L304.94,756.75 L305.10,757.22 L305.28,757.71 L305.49,758.19 L305.73,758.66 L305.98,759.11 L306.27,759.54 L306.57,759.94 L306.90,760.31 L307.26,760.65 L307.64,760.97 L308.04,761.26 L308.47,761.53 L308.93,761.77 L309.41,762.00 L309.91,762.21 L310.44,762.40 L310.99,762.57 L311.56,762.73 L312.17,762.88 L312.79,763.01 L313.44,763.14 L314.12,763.25 L314.82,763.36 L315.54,763.46 L316.29,763.55 L317.06,763.63 L317.86,763.71 L318.68,763.79 L319.52,763.85 L320.40,763.92 L321.29,763.98 L322.21,764.04 L323.16,764.09 L324.12,764.14 L325.12,764.19 L326.14,764.23 L327.18,764.27 L328.25,764.31 L329.34,764.35 L330.45,764.39 L331.59,764.42 L332.76,764.46 L333.95,764.49 L335.16,764.52 L336.40,764.55 L337.67,764.57 L338.95,764.60 L340.27,764.62 L341.60,764.65 L342.96,764.67 L344.35,764.70 L345.76,764.72 L347.20,764.74 L348.65,764.76 L350.14,764.78 L351.65,764.80 L353.18,764.82 L354.74,764.83 L356.32,764.85 L357.93,764.87 L359.56,764.89 L361.21,764.90 L362.89,764.92 L364.60,764.94 L366.33,764.95 L368.08,764.97 L369.86,764.98 L371.66,765.00 L373.49,765.01 L375.34,765.02 L377.22,765.04 L379.12,765.05 L381.05,765.07 L383.00,765.08 L383.68,765.10 L384.66,765.11 L385.63,765.13 L386.61,765.15 L387.59,765.16 L388.57,765.18 L389.55,765.19 L390.53,765.21 L391.51,765.23 L392.49,765.24 L393.46,765.26 L394.44,765.28 L395.42,765.29 L396.40,765.31 L397.38,765.32 L398.36,765.34 L399.34,765.36 L400.32,765.37 L401.29,765.39 L402.27,765.41 L403.25,765.42 L404.23,765.44 L405.21,765.46 L406.19,765.47 L407.17,765.49 L408.15,765.50 L409.12,765.52 L410.10,765.54 L411.08,765.55 L412.06,765.57 L413.04,765.59 L414.02,765.60 L415.00,765.62 L415.98,765.63 L416.95,765.65 L417.93,765.67 L418.91,765.68 L419.89,765.70 L420.87,765.72 L421.85,765.73 L422.83,765.75 L423.81,765.77 L424.79,765.78 L425.76,765.80 L426.74,765.81 L427.72,765.83 L428.70,765.85 L429.68,765.86 L430.66,765.88 L431.64,765.90 L432.62,765.91 L433.59,765.93 L434.57,765.95 L435.55,765.96 L436.53,765.98 L437.51,766.00 L438.49,766.01 L439.47,766.03 L440.45,766.05 L441.42,766.07 L442.40,766.09 L443.38,766.12 L444.36,766.14 L445.34,766.17 L446.32,766.21 L447.30,766.26 L448.28,766.33 L449.25,766.42 L450.23,766.54 L451.21,766.70 L452.19,766.94 L453.17,767.27 L454.15,767.75 L455.13,768.44 L456.11,769.44 L457.08,770.88 L458.06,772.97 L459.04,776.01 L460.02,780.42 L461.00,786.83 L461.00,765.08Z" fill="#bdbec0" stroke="none"/>
<line x1="304.20" y1="765.08" x2="461.00" y2="765.08" stroke="#a9a9a9" stroke-width="0.7"/>
<rect x="357.30" y="763.18" width="41.40" height="3.80" fill="#fff"/>
<text x="382.00" y="766.68" font-size="4.3" text-anchor="middle" textLength="31.40" lengthAdjust="spacingAndGlyphs">Zero cross at 6959</text>
<text x="305.80" y="749.28" font-size="6.5" fill="#d43d54" textLength="69.60" lengthAdjust="spacingAndGlyphs">&#8216;Rux&#8217; (positively correlated)</text>
<text x="376.80" y="785.60" font-size="6.5" fill="#3273b4" textLength="70.90" lengthAdjust="spacingAndGlyphs">&#8216;Ctrl&#8217; (negatively correlated)</text>
<line x1="304.20" y1="642.00" x2="469.80" y2="642.00" stroke="#231f20" stroke-width="1.0"/>
<line x1="469.80" y1="642.00" x2="469.80" y2="788.50" stroke="#231f20" stroke-width="1.0"/>
<line x1="304.20" y1="712.30" x2="469.80" y2="712.30" stroke="#231f20" stroke-width="1.0"/>
<line x1="304.20" y1="735.70" x2="469.80" y2="735.70" stroke="#231f20" stroke-width="1.0"/>
<line x1="304.20" y1="742.00" x2="469.80" y2="742.00" stroke="#6a6a6a" stroke-width="1.0"/>
<line x1="303.75" y1="788.50" x2="470.25" y2="788.50" stroke="#231f20" stroke-width="0.9"/>
<line x1="304.20" y1="641.55" x2="304.20" y2="790.70" stroke="#231f20" stroke-width="0.9"/>
<line x1="301.60" y1="642.86" x2="304.20" y2="642.86" stroke="#231f20" stroke-width="0.8"/>
<text x="299.20" y="645.16" font-size="6.3" text-anchor="end">0.1</text>
<line x1="301.60" y1="651.90" x2="304.20" y2="651.90" stroke="#231f20" stroke-width="0.8"/>
<text x="299.20" y="654.20" font-size="6.3" text-anchor="end">0.0</text>
<line x1="301.60" y1="660.94" x2="304.20" y2="660.94" stroke="#231f20" stroke-width="0.8"/>
<text x="299.20" y="663.24" font-size="6.3" text-anchor="end">&#8722;0.1</text>
<line x1="301.60" y1="669.98" x2="304.20" y2="669.98" stroke="#231f20" stroke-width="0.8"/>
<text x="299.20" y="672.28" font-size="6.3" text-anchor="end">&#8722;0.2</text>
<line x1="301.60" y1="679.02" x2="304.20" y2="679.02" stroke="#231f20" stroke-width="0.8"/>
<text x="299.20" y="681.32" font-size="6.3" text-anchor="end">&#8722;0.3</text>
<line x1="301.60" y1="688.06" x2="304.20" y2="688.06" stroke="#231f20" stroke-width="0.8"/>
<text x="299.20" y="690.36" font-size="6.3" text-anchor="end">&#8722;0.4</text>
<line x1="301.60" y1="697.10" x2="304.20" y2="697.10" stroke="#231f20" stroke-width="0.8"/>
<text x="299.20" y="699.40" font-size="6.3" text-anchor="end">&#8722;0.5</text>
<line x1="301.60" y1="706.14" x2="304.20" y2="706.14" stroke="#231f20" stroke-width="0.8"/>
<text x="299.20" y="708.44" font-size="6.3" text-anchor="end">&#8722;0.6</text>
<line x1="301.60" y1="747.68" x2="304.20" y2="747.68" stroke="#231f20" stroke-width="0.8"/>
<text x="300.20" y="749.98" font-size="6.3" text-anchor="end">4</text>
<line x1="301.60" y1="756.38" x2="304.20" y2="756.38" stroke="#231f20" stroke-width="0.8"/>
<text x="300.20" y="758.68" font-size="6.3" text-anchor="end">2</text>
<line x1="301.60" y1="765.08" x2="304.20" y2="765.08" stroke="#231f20" stroke-width="0.8"/>
<text x="300.20" y="767.38" font-size="6.3" text-anchor="end">0</text>
<line x1="301.60" y1="773.78" x2="304.20" y2="773.78" stroke="#231f20" stroke-width="0.8"/>
<text x="300.20" y="776.08" font-size="6.3" text-anchor="end">&#8722;2</text>
<line x1="301.60" y1="782.48" x2="304.20" y2="782.48" stroke="#231f20" stroke-width="0.8"/>
<text x="300.20" y="784.78" font-size="6.3" text-anchor="end">&#8722;4</text>
<line x1="304.20" y1="788.50" x2="304.20" y2="790.70" stroke="#231f20" stroke-width="0.8"/>
<text x="304.20" y="798.70" font-size="6.3" text-anchor="middle">0</text>
<line x1="326.76" y1="788.50" x2="326.76" y2="790.70" stroke="#231f20" stroke-width="0.8"/>
<text x="326.76" y="798.70" font-size="6.3" text-anchor="middle">2,000</text>
<line x1="349.32" y1="788.50" x2="349.32" y2="790.70" stroke="#231f20" stroke-width="0.8"/>
<text x="349.32" y="798.70" font-size="6.3" text-anchor="middle">4,000</text>
<line x1="371.88" y1="788.50" x2="371.88" y2="790.70" stroke="#231f20" stroke-width="0.8"/>
<text x="371.88" y="798.70" font-size="6.3" text-anchor="middle">6,000</text>
<line x1="394.44" y1="788.50" x2="394.44" y2="790.70" stroke="#231f20" stroke-width="0.8"/>
<text x="394.44" y="798.70" font-size="6.3" text-anchor="middle">8,000</text>
<line x1="417.00" y1="788.50" x2="417.00" y2="790.70" stroke="#231f20" stroke-width="0.8"/>
<text x="417.00" y="798.70" font-size="6.3" text-anchor="middle">10,000</text>
<line x1="439.56" y1="788.50" x2="439.56" y2="790.70" stroke="#231f20" stroke-width="0.8"/>
<text x="439.56" y="798.70" font-size="6.3" text-anchor="middle">12,000</text>
<line x1="462.12" y1="788.50" x2="462.12" y2="790.70" stroke="#231f20" stroke-width="0.8"/>
<text x="462.12" y="798.70" font-size="6.3" text-anchor="middle">14,000</text>
<text x="392.30" y="807.10" font-size="7.6" text-anchor="middle" fill="#3a3a3a" font-weight="bold" textLength="57.40" lengthAdjust="spacingAndGlyphs">Rank in ordered dataset</text>
<text x="283.00" y="707.50" font-size="7.6" fill="#3a3a3a" font-weight="bold" textLength="54.30" lengthAdjust="spacingAndGlyphs" transform="rotate(-90 283.00 707.50)">Enrichment score (ES)</text>
<text x="289.00" y="809.50" font-size="7.2" fill="#3a3a3a" font-weight="bold" textLength="78.30" lengthAdjust="spacingAndGlyphs" transform="rotate(-90 289.00 809.50)">Ranked list metric (signal2noise)</text>
<rect x="305.20" y="811.80" width="166.50" height="8.20" fill="none" stroke="#231f20" stroke-width="0.9"/>
<line x1="307.60" y1="815.90" x2="313.40" y2="815.90" stroke="#1fa83c" stroke-width="1.5"/>
<text x="314.70" y="818.10" font-size="6.6" textLength="47.00" lengthAdjust="spacingAndGlyphs">Enrichment profile</text>
<line x1="375.60" y1="815.90" x2="380.50" y2="815.90" stroke="#444" stroke-width="0.6"/>
<text x="381.80" y="818.10" font-size="6.6" textLength="10.40" lengthAdjust="spacingAndGlyphs">Hits</text>
<line x1="401.40" y1="815.90" x2="407.50" y2="815.90" stroke="#888" stroke-width="0.6"/>
<text x="408.70" y="818.10" font-size="6.6" textLength="57.30" lengthAdjust="spacingAndGlyphs">Ranking metric scores</text>
<text x="311.20" y="683.90" font-size="6.4" fill="#333" textLength="33.50" lengthAdjust="spacingAndGlyphs">NES: &#8722;1.55</text>
<text x="311.20" y="692.80" font-size="6.4" fill="#333" textLength="39.80" lengthAdjust="spacingAndGlyphs"><tspan font-style="italic">p-value:</tspan> 0.005</text>
<text x="311.20" y="701.60" font-size="6.4" fill="#333" textLength="46.60" lengthAdjust="spacingAndGlyphs">FDR <tspan font-style="italic">q-val:</tspan> 0.024</text>
</g>
<rect x="0.6" y="0.6" width="518.8" height="827.8" fill="none" stroke="#231f20" stroke-width="1.4"/>
</svg>
</body></html>
